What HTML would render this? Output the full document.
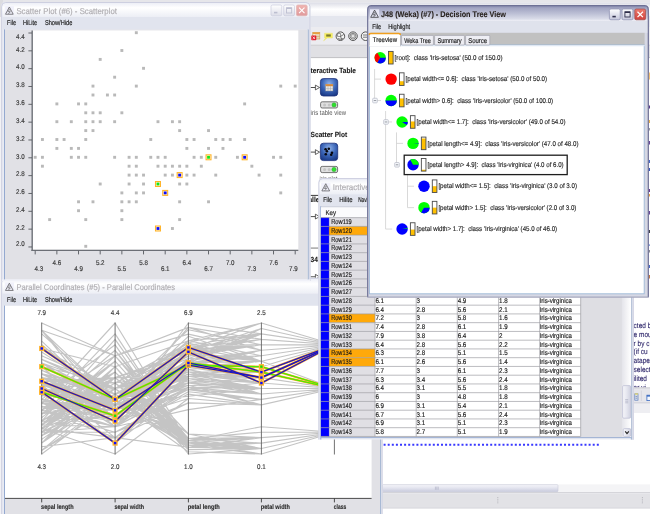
<!DOCTYPE html>
<html><head><meta charset="utf-8"><title>KNIME views</title>
<style>
html,body{margin:0;padding:0;background:#fff;overflow:hidden}
svg{display:block;will-change:transform;font-family:"Liberation Sans",sans-serif;white-space:pre;text-rendering:geometricPrecision}
</style></head><body>
<svg width="650" height="514" viewBox="0 0 650 514">
<rect width="650" height="514" fill="#ffffff"/>
<g>
<defs>
<linearGradient id="gInact" x1="0" y1="0" x2="0" y2="1">
 <stop offset="0" stop-color="#eceef6"/><stop offset="0.35" stop-color="#ffffff"/><stop offset="1" stop-color="#eceef5"/>
</linearGradient>
<linearGradient id="gAct" x1="0" y1="0" x2="0" y2="1">
 <stop offset="0" stop-color="#8b8eb1"/><stop offset="0.15" stop-color="#a3a6c3"/><stop offset="0.5" stop-color="#bcbfd5"/><stop offset="0.85" stop-color="#d9dbe8"/><stop offset="1" stop-color="#eeeff6"/>
</linearGradient>
<linearGradient id="gBtn" x1="0" y1="0" x2="0" y2="1">
 <stop offset="0" stop-color="#ffffff"/><stop offset="1" stop-color="#c4c6da"/>
</linearGradient>
<linearGradient id="gBtnI" x1="0" y1="0" x2="0" y2="1">
 <stop offset="0" stop-color="#ffffff"/><stop offset="1" stop-color="#dcdde8"/>
</linearGradient>
<linearGradient id="gClose" x1="0" y1="0" x2="0" y2="1">
 <stop offset="0" stop-color="#ee7c6e"/><stop offset="1" stop-color="#d0403c"/>
</linearGradient>
<linearGradient id="gCloseI" x1="0" y1="0" x2="0" y2="1">
 <stop offset="0" stop-color="#f0b4b0"/><stop offset="1" stop-color="#e09a9c"/>
</linearGradient>
<linearGradient id="gTop" x1="0" y1="0" x2="0" y2="1">
 <stop offset="0" stop-color="#dcdde6"/><stop offset="0.5" stop-color="#ffffff"/><stop offset="1" stop-color="#f2f2f6"/>
</linearGradient>
<radialGradient id="gNode" cx="0.5" cy="0.3" r="0.75">
 <stop offset="0" stop-color="#8fb2ea"/><stop offset="0.55" stop-color="#3a64b6"/><stop offset="1" stop-color="#1a3884"/>
</radialGradient>
<linearGradient id="gSbH" x1="0" y1="0" x2="0" y2="1">
 <stop offset="0" stop-color="#f6f6fa"/><stop offset="0.5" stop-color="#e2e3ee"/><stop offset="1" stop-color="#c8cadc"/>
</linearGradient>
<linearGradient id="gSbV" x1="0" y1="0" x2="1" y2="0">
 <stop offset="0" stop-color="#f6f6fa"/><stop offset="0.5" stop-color="#e6e7f0"/><stop offset="1" stop-color="#cfd1e0"/>
</linearGradient>
<linearGradient id="gTrackV" x1="0" y1="0" x2="1" y2="0">
 <stop offset="0" stop-color="#e4e4ea"/><stop offset="1" stop-color="#ffffff"/>
</linearGradient>
</defs>
<rect x="0.00" y="0.00" width="650.00" height="514.00" fill="#ffffff" />
<rect x="0.00" y="0.00" width="650.00" height="2.50" fill="#e6e6ea" />
<rect x="0.00" y="2.50" width="650.00" height="13.50" fill="url(#gTop)" />
<rect x="0.00" y="16.00" width="650.00" height="11.00" fill="#e4e6ee" />
<rect x="0.00" y="27.00" width="650.00" height="18.00" fill="#ececf0" />
<line x1="0.00" y1="45.30" x2="650.00" y2="45.30" stroke="#b4b4b8" stroke-width="0.8" />
<rect x="0.00" y="45.70" width="650.00" height="11.60" fill="#e0e0e4" />
<line x1="0.00" y1="57.60" x2="650.00" y2="57.60" stroke="#b0b0b4" stroke-width="0.8" />
<rect x="0.00" y="0.00" width="3.00" height="17.00" fill="#dcdce0" />
<rect x="0.00" y="17.00" width="3.00" height="497.00" fill="#f2f2f5" />
<rect x="312.80" y="32.30" width="7.00" height="6.70" fill="#f4e8d0" stroke="#c89040" stroke-width="0.6" />
<rect x="312.80" y="32.30" width="7.00" height="1.70" fill="#e8a040" />
<line x1="316.00" y1="34.00" x2="316.00" y2="39.00" stroke="#c8a060" stroke-width="0.5" />
<line x1="318.00" y1="34.00" x2="318.00" y2="39.00" stroke="#c8a060" stroke-width="0.5" />
<line x1="312.80" y1="36.50" x2="319.80" y2="36.50" stroke="#c8a060" stroke-width="0.5" />
<rect x="311.30" y="35.50" width="5.00" height="4.70" fill="#e02030" rx="0.6" />
<line x1="312.60" y1="36.70" x2="315.00" y2="39.00" stroke="#fff" stroke-width="0.7" />
<line x1="315.00" y1="36.70" x2="312.60" y2="39.00" stroke="#fff" stroke-width="0.7" />
<path d="M324.6 33.2 H332.4 V38 H327.2 L323.6 40.8 L325.6 38 H324.6 Z" fill="#f6ee60" stroke="#e8e070" stroke-width="0.5"/>
<rect x="326.20" y="34.40" width="4.60" height="2.20" fill="#7a7a30" />
<circle cx="340.4" cy="36.2" r="4.3" fill="#f4f4f4" stroke="#444" stroke-width="0.9"/>
<circle cx="353.0" cy="36.2" r="4.3" fill="#f4f4f4" stroke="#444" stroke-width="0.9"/>
<circle cx="365.6" cy="36.2" r="4.3" fill="#f4f4f4" stroke="#444" stroke-width="0.9"/>
<path d="M337.6 33.6 H340.6 V36.4 H337.6 Z" fill="#fff" stroke="#444" stroke-width="0.6"/>
<path d="M340.6 36.4 L343.8 34.4 M340.6 36.4 L341.6 39.6 M338 38.6 Q340.4 40 343 38.6" fill="none" stroke="#444" stroke-width="0.7"/>
<circle cx="353" cy="36.2" r="2.9" fill="none" stroke="#555" stroke-width="0.7"/>
<path d="M351.6 34.6 H354.4 V37.6 H351.6 Z" fill="#eee" stroke="#666" stroke-width="0.5"/>
<path d="M363 35 H367 M363 37.2 H367" stroke="#444" stroke-width="0.7"/>
<rect x="308.60" y="16.00" width="2.00" height="498.00" fill="#e4e6f0" />
<text x="310.60" y="72.60" font-size="7.39" fill="#1c1c1c" font-weight="bold" stroke="#1c1c1c" stroke-width="0.12" textLength="45.30" lengthAdjust="spacingAndGlyphs" >teractive Table</text>
<line x1="310.60" y1="87.50" x2="315.40" y2="87.50" stroke="#222" stroke-width="0.8" />
<path d="M315.4 85.10 L319.6 87.50 L315.4 89.90 Z" fill="#fff" stroke="#222" stroke-width="0.7"/>
<rect x="320.40" y="78.60" width="17.30" height="17.40" fill="url(#gNode)" stroke="#1a2f78" stroke-width="0.8" rx="3" />
<rect x="325.60" y="84.20" width="7.40" height="6.80" fill="#e8e8e8" stroke="#888" stroke-width="0.4" />
<rect x="325.60" y="84.20" width="7.40" height="2.00" fill="#d88a3a" />
<line x1="328.00" y1="86.20" x2="328.00" y2="91.00" stroke="#999" stroke-width="0.4" />
<line x1="330.50" y1="86.20" x2="330.50" y2="91.00" stroke="#999" stroke-width="0.4" />
<line x1="325.60" y1="88.60" x2="333.00" y2="88.60" stroke="#999" stroke-width="0.4" />
<rect x="320.60" y="101.80" width="17.00" height="6.20" fill="#e0e0e0" stroke="#555" stroke-width="0.8" rx="1.6" />
<circle cx="324.6" cy="104.9" r="1.5" fill="#c4c4c4"/>
<circle cx="329.2" cy="104.9" r="1.5" fill="#c4c4c4"/>
<circle cx="334" cy="104.9" r="2.2" fill="#2ee02e" stroke="#3a9a3a" stroke-width="0.4"/>
<text x="310.60" y="115.48" font-size="7.06" fill="#585858" textLength="35.50" lengthAdjust="spacingAndGlyphs" stroke="none">iris table view</text>
<text x="310.60" y="137.20" font-size="7.39" fill="#1c1c1c" font-weight="bold" stroke="#1c1c1c" stroke-width="0.12" textLength="36.50" lengthAdjust="spacingAndGlyphs" >Scatter Plot</text>
<line x1="310.60" y1="152.10" x2="315.40" y2="152.10" stroke="#222" stroke-width="0.8" />
<path d="M315.4 149.70 L319.6 152.10 L315.4 154.50 Z" fill="#fff" stroke="#222" stroke-width="0.7"/>
<rect x="320.40" y="143.20" width="17.30" height="17.40" fill="url(#gNode)" stroke="#1a2f78" stroke-width="0.8" rx="3" />
<circle cx="325.6" cy="149.2" r="1.3" fill="#06060e"/>
<circle cx="328.8" cy="148.8" r="1.3" fill="#06060e"/>
<circle cx="326.9" cy="151.3" r="1.3" fill="#06060e"/>
<circle cx="332.0" cy="152.8" r="1.3" fill="#06060e"/>
<circle cx="325.8" cy="154.2" r="1.3" fill="#06060e"/>
<circle cx="331.2" cy="154.8" r="1.3" fill="#06060e"/>
<rect x="320.60" y="166.40" width="17.00" height="6.20" fill="#e0e0e0" stroke="#555" stroke-width="0.8" rx="1.6" />
<circle cx="324.6" cy="169.5" r="1.5" fill="#c4c4c4"/>
<circle cx="329.2" cy="169.5" r="1.5" fill="#c4c4c4"/>
<circle cx="334" cy="169.5" r="2.2" fill="#2ee02e" stroke="#3a9a3a" stroke-width="0.4"/>
<text x="319.60" y="180.68" font-size="7.06" fill="#585858" textLength="17.80" lengthAdjust="spacingAndGlyphs" stroke="none">iris plot</text>
<clipPath id="cv"><rect x="310.6" y="58" width="60" height="456"/></clipPath>
<text x="308.40" y="201.60" font-size="7.39" fill="#1c1c1c" font-weight="bold" stroke="#1c1c1c" stroke-width="0.12" textLength="11.01" lengthAdjust="spacingAndGlyphs" clip-path="url(#cv)">alle</text>
<line x1="310.60" y1="216.60" x2="315.40" y2="216.60" stroke="#222" stroke-width="0.8" />
<path d="M315.4 214.2 L319.6 216.6 L315.4 219 Z" fill="#fff" stroke="#222" stroke-width="0.7"/>
<line x1="310.60" y1="248.10" x2="318.60" y2="248.10" stroke="#a6a6a6" stroke-width="1.5" />
<line x1="310.60" y1="195.40" x2="318.60" y2="195.40" stroke="#3a3a3a" stroke-width="1.0" />
<text x="310.60" y="261.60" font-size="7.39" fill="#1c1c1c" font-weight="bold" stroke="#1c1c1c" stroke-width="0.12" textLength="7.34" lengthAdjust="spacingAndGlyphs" >34</text>
<line x1="310.60" y1="276.80" x2="315.40" y2="276.80" stroke="#222" stroke-width="0.8" />
<path d="M315.4 274.4 L319.6 276.8 L315.4 279.2 Z" fill="#fff" stroke="#222" stroke-width="0.7"/>
<rect x="631.50" y="297.00" width="2.30" height="143.00" fill="#e8e8f0" />
<text x="633.60" y="327.90" font-size="7.67" fill="#221a62" textLength="17.71" lengthAdjust="spacingAndGlyphs" stroke="#221a62" stroke-width="0.1">cted b</text>
<text x="633.60" y="336.73" font-size="7.67" fill="#221a62" textLength="18.07" lengthAdjust="spacingAndGlyphs" stroke="#221a62" stroke-width="0.1">e mou</text>
<text x="633.60" y="345.56" font-size="7.67" fill="#221a62" textLength="15.89" lengthAdjust="spacingAndGlyphs" stroke="#221a62" stroke-width="0.1">r by c</text>
<text x="633.60" y="354.39" font-size="7.67" fill="#221a62" textLength="14.09" lengthAdjust="spacingAndGlyphs" stroke="#221a62" stroke-width="0.1">(if cu</text>
<text x="633.60" y="363.22" font-size="7.67" fill="#221a62" textLength="16.27" lengthAdjust="spacingAndGlyphs" stroke="#221a62" stroke-width="0.1">atape</text>
<text x="633.60" y="372.05" font-size="7.67" fill="#221a62" textLength="16.98" lengthAdjust="spacingAndGlyphs" stroke="#221a62" stroke-width="0.1">select</text>
<text x="633.60" y="380.88" font-size="7.67" fill="#221a62" textLength="13.37" lengthAdjust="spacingAndGlyphs" stroke="#221a62" stroke-width="0.1">ilited</text>
<text x="633.60" y="389.71" font-size="7.67" fill="#221a62" textLength="12.28" lengthAdjust="spacingAndGlyphs" stroke="#221a62" stroke-width="0.1">ar vi</text>
<rect x="633.80" y="387.30" width="16.20" height="15.90" fill="#e6e6eb" />
<rect x="633.80" y="403.20" width="16.20" height="9.80" fill="#eeeef2" />
<line x1="633.80" y1="387.90" x2="650.00" y2="387.90" stroke="#c4c4cc" stroke-width="0.8" />
<line x1="633.80" y1="402.90" x2="650.00" y2="402.90" stroke="#c8c8d0" stroke-width="0.8" />
<rect x="634.80" y="393.80" width="3.20" height="6.40" fill="#dbe6f6" stroke="#5a7ab8" stroke-width="0.7" />
<rect x="634.80" y="393.40" width="3.20" height="1.20" fill="#e8d860" />
<line x1="635.60" y1="396.40" x2="637.20" y2="396.40" stroke="#446" stroke-width="0.5" />
<line x1="635.60" y1="398.20" x2="637.20" y2="398.20" stroke="#446" stroke-width="0.5" />
<line x1="641.40" y1="390.50" x2="641.40" y2="401.00" stroke="#d0d0d8" stroke-width="0.7" />
<rect x="646.90" y="395.20" width="4.10" height="5.40" fill="#f4f8ff" stroke="#3a6ac0" stroke-width="0.8" />
<rect x="646.90" y="395.20" width="4.10" height="1.40" fill="#3a6ac0" />
<line x1="383.6" y1="444.8" x2="599" y2="444.8" stroke="#3838ff" stroke-width="1.9" stroke-dasharray="2.0 2.1"/>
<rect x="382.00" y="484.40" width="268.00" height="7.60" fill="#f4f4f6" />
<rect x="382.40" y="484.60" width="175.60" height="7.20" fill="url(#gSbH)" stroke="#c4c6d6" stroke-width="0.5" rx="1" />
<line x1="435.40" y1="486.60" x2="435.40" y2="489.80" stroke="#a8aac0" stroke-width="0.6" />
<line x1="436.80" y1="486.60" x2="436.80" y2="489.80" stroke="#a8aac0" stroke-width="0.6" />
<line x1="438.20" y1="486.60" x2="438.20" y2="489.80" stroke="#a8aac0" stroke-width="0.6" />
<line x1="382.00" y1="492.60" x2="650.00" y2="492.60" stroke="#c4c4cc" stroke-width="0.8" />
<rect x="382.00" y="493.20" width="268.00" height="14.40" fill="#e2e2e6" />
<line x1="382.00" y1="508.00" x2="650.00" y2="508.00" stroke="#c4c4cc" stroke-width="0.8" />
<line x1="497.8" y1="497" x2="497.8" y2="504" stroke="#a8a8b0" stroke-width="0.8" stroke-dasharray="0.9 0.9"/>
<line x1="642.4" y1="497" x2="642.4" y2="504" stroke="#a8a8b0" stroke-width="0.8" stroke-dasharray="0.9 0.9"/>
<path d="M1.20 520.00 V281.80 Q1.20 277.80 5.20 277.80 H378.60 Q382.60 277.80 382.60 281.80 V520.00 Z" fill="#e9ebf3"/>
<path d="M1.80 293.75 V282.10 Q1.80 278.60 5.20 278.60 H378.60 Q382.00 278.60 382.00 282.10 V293.75 Z" fill="url(#gInact)"/>
<path d="M1.70 520.00 V282.30 Q1.70 278.30 5.70 278.30 H378.10 Q382.10 278.30 382.10 282.30 V520.00" fill="none" stroke="#c9ccde" stroke-width="0.9"/>
<rect x="4.80" y="282.40" width="9.20" height="9.00" fill="#f1f1fb" />
<g transform="translate(5.40,282.80) scale(0.965)" fill="none" stroke="#626266" stroke-width="0.85" stroke-linejoin="round" stroke-linecap="round"><path d="M4.3 0.8 L8.1 7.9 L0.5 7.9 Z"/><path d="M2.6 5.3 L5.2 5.3 L3.3 7.3 M3.2 4.2 Q3 5 3.8 5.2" stroke-width="0.7"/><path d="M3.6 2.9 L5.0 3.7" stroke-width="0.7"/></g>
<text x="16.40" y="289.86" font-size="8.40" fill="#b0aeb2" textLength="158.60" lengthAdjust="spacingAndGlyphs" stroke="#b0aeb2" stroke-width="0.16" >Parallel Coordinates (#5) - Parallel Coordinates</text>
<rect x="2.70" y="293.75" width="378.40" height="11.85" fill="#e1e4ee" />
<text x="7.10" y="301.85" font-size="7.06" fill="#1a1a1a" textLength="8.90" lengthAdjust="spacingAndGlyphs" stroke="#1a1a1a" stroke-width="0.16" >File</text>
<text x="23.10" y="301.85" font-size="7.06" fill="#1a1a1a" textLength="14.10" lengthAdjust="spacingAndGlyphs" stroke="#1a1a1a" stroke-width="0.16" >HiLite</text>
<text x="44.90" y="301.85" font-size="7.06" fill="#1a1a1a" textLength="27.40" lengthAdjust="spacingAndGlyphs" stroke="#1a1a1a" stroke-width="0.16" >Show/Hide</text>
<line x1="4.50" y1="305.60" x2="4.50" y2="520.00" stroke="#8aa2cc" stroke-width="0.9" />
<line x1="380.40" y1="305.60" x2="380.40" y2="520.00" stroke="#a8b9d4" stroke-width="1.3" />
<rect x="5.00" y="305.80" width="375.00" height="214.20" fill="#e1e1e6" />
<rect x="5.00" y="305.80" width="366.60" height="192.40" fill="#ffffff" />
<path d="M41.7 424.9 L115.1 372.1 L188.4 445.1 L261.4 448.5 L334.4 432.2 M41.7 432.2 L115.1 399.4 L188.4 445.1 L261.4 448.5 L334.4 432.2 M41.7 439.4 L115.1 388.5 L188.4 447.3 L261.4 448.5 L334.4 432.2 M41.7 443.1 L115.1 394.0 L188.4 442.9 L261.4 448.5 L334.4 432.2 M41.7 428.5 L115.1 366.7 L188.4 445.1 L261.4 448.5 L334.4 432.2 M41.7 414.0 L115.1 350.3 L188.4 438.5 L261.4 437.6 L334.4 432.2 M41.7 443.1 L115.1 377.6 L188.4 445.1 L261.4 443.1 L334.4 432.2 M41.7 428.5 L115.1 377.6 L188.4 442.9 L261.4 448.5 L334.4 432.2 M41.7 450.4 L115.1 404.9 L188.4 445.1 L261.4 448.5 L334.4 432.2 M41.7 432.2 L115.1 394.0 L188.4 442.9 L261.4 454.0 L334.4 432.2 M41.7 414.0 L115.1 361.2 L188.4 442.9 L261.4 448.5 L334.4 432.2 M41.7 435.8 L115.1 377.6 L188.4 440.7 L261.4 448.5 L334.4 432.2 M41.7 435.8 L115.1 399.4 L188.4 445.1 L261.4 454.0 L334.4 432.2 M41.7 454.0 L115.1 399.4 L188.4 451.8 L261.4 454.0 L334.4 432.2 M41.7 399.4 L115.1 344.8 L188.4 449.6 L261.4 448.5 L334.4 432.2 M41.7 403.1 L115.1 323.0 L188.4 442.9 L261.4 437.6 L334.4 432.2 M41.7 414.0 L115.1 350.3 L188.4 447.3 L261.4 437.6 L334.4 432.2 M41.7 424.9 L115.1 372.1 L188.4 445.1 L261.4 443.1 L334.4 432.2 M41.7 403.1 L115.1 355.8 L188.4 438.5 L261.4 443.1 L334.4 432.2 M41.7 424.9 L115.1 355.8 L188.4 442.9 L261.4 443.1 L334.4 432.2 M41.7 414.0 L115.1 377.6 L188.4 438.5 L261.4 448.5 L334.4 432.2 M41.7 424.9 L115.1 361.2 L188.4 442.9 L261.4 437.6 L334.4 432.2 M41.7 443.1 L115.1 366.7 L188.4 454.0 L261.4 448.5 L334.4 432.2 M41.7 424.9 L115.1 383.0 L188.4 438.5 L261.4 432.2 L334.4 432.2 M41.7 435.8 L115.1 377.6 L188.4 434.0 L261.4 448.5 L334.4 432.2 M41.7 428.5 L115.1 399.4 L188.4 440.7 L261.4 448.5 L334.4 432.2 M41.7 428.5 L115.1 377.6 L188.4 440.7 L261.4 437.6 L334.4 432.2 M41.7 421.2 L115.1 372.1 L188.4 442.9 L261.4 448.5 L334.4 432.2 M41.7 421.2 L115.1 377.6 L188.4 445.1 L261.4 448.5 L334.4 432.2 M41.7 439.4 L115.1 388.5 L188.4 440.7 L261.4 448.5 L334.4 432.2 M41.7 435.8 L115.1 394.0 L188.4 440.7 L261.4 448.5 L334.4 432.2 M41.7 414.0 L115.1 377.6 L188.4 442.9 L261.4 437.6 L334.4 432.2 M41.7 421.2 L115.1 339.4 L188.4 442.9 L261.4 454.0 L334.4 432.2 M41.7 410.3 L115.1 333.9 L188.4 445.1 L261.4 448.5 L334.4 432.2 M41.7 432.2 L115.1 394.0 L188.4 442.9 L261.4 448.5 L334.4 432.2 M41.7 428.5 L115.1 388.5 L188.4 449.6 L261.4 448.5 L334.4 432.2 M41.7 410.3 L115.1 372.1 L188.4 447.3 L261.4 448.5 L334.4 432.2 M41.7 432.2 L115.1 366.7 L188.4 445.1 L261.4 454.0 L334.4 432.2 M41.7 450.4 L115.1 399.4 L188.4 447.3 L261.4 448.5 L334.4 432.2 M41.7 424.9 L115.1 377.6 L188.4 442.9 L261.4 448.5 L334.4 432.2 M41.7 428.5 L115.1 372.1 L188.4 447.3 L261.4 443.1 L334.4 432.2 M41.7 446.7 L115.1 437.6 L188.4 447.3 L261.4 443.1 L334.4 432.2 M41.7 450.4 L115.1 388.5 L188.4 447.3 L261.4 448.5 L334.4 432.2 M41.7 428.5 L115.1 372.1 L188.4 440.7 L261.4 426.7 L334.4 432.2 M41.7 424.9 L115.1 355.8 L188.4 434.0 L261.4 437.6 L334.4 432.2 M41.7 435.8 L115.1 399.4 L188.4 445.1 L261.4 443.1 L334.4 432.2 M41.7 424.9 L115.1 355.8 L188.4 440.7 L261.4 448.5 L334.4 432.2 M41.7 443.1 L115.1 388.5 L188.4 445.1 L261.4 448.5 L334.4 432.2 M41.7 417.6 L115.1 361.2 L188.4 442.9 L261.4 448.5 L334.4 432.2 M41.7 428.5 L115.1 383.0 L188.4 445.1 L261.4 448.5 L334.4 432.2 M41.7 355.8 L115.1 388.5 L188.4 371.8 L261.4 383.0 L334.4 388.5 M41.7 377.6 L115.1 388.5 L188.4 376.3 L261.4 377.6 L334.4 388.5 M41.7 359.4 L115.1 394.0 L188.4 367.4 L261.4 377.6 L334.4 388.5 M41.7 410.3 L115.1 437.6 L188.4 387.4 L261.4 388.5 L334.4 388.5 M41.7 373.9 L115.1 410.3 L188.4 374.1 L261.4 377.6 L334.4 388.5 M41.7 403.1 L115.1 410.3 L188.4 376.3 L261.4 388.5 L334.4 388.5 M41.7 381.2 L115.1 383.0 L188.4 371.8 L261.4 372.1 L334.4 388.5 M41.7 432.2 L115.1 432.2 L188.4 402.9 L261.4 404.9 L334.4 388.5 M41.7 370.3 L115.1 404.9 L188.4 374.1 L261.4 388.5 L334.4 388.5 M41.7 421.2 L115.1 415.8 L188.4 389.6 L261.4 383.0 L334.4 388.5 M41.7 428.5 L115.1 454.0 L188.4 398.5 L261.4 404.9 L334.4 388.5 M41.7 395.8 L115.1 399.4 L188.4 382.9 L261.4 377.6 L334.4 388.5 M41.7 392.1 L115.1 443.1 L188.4 387.4 L261.4 404.9 L334.4 388.5 M41.7 388.5 L115.1 404.9 L188.4 371.8 L261.4 383.0 L334.4 388.5 M41.7 406.7 L115.1 404.9 L188.4 396.3 L261.4 388.5 L334.4 388.5 M41.7 366.7 L115.1 394.0 L188.4 378.5 L261.4 383.0 L334.4 388.5 M41.7 406.7 L115.1 399.4 L188.4 376.3 L261.4 377.6 L334.4 388.5 M41.7 399.4 L115.1 415.8 L188.4 385.2 L261.4 404.9 L334.4 388.5 M41.7 384.9 L115.1 443.1 L188.4 376.3 L261.4 377.6 L334.4 388.5 M41.7 406.7 L115.1 426.7 L188.4 389.6 L261.4 399.4 L334.4 388.5 M41.7 395.8 L115.1 388.5 L188.4 369.6 L261.4 361.2 L334.4 388.5 M41.7 388.5 L115.1 410.3 L188.4 387.4 L261.4 388.5 L334.4 388.5 M41.7 381.2 L115.1 426.7 L188.4 367.4 L261.4 377.6 L334.4 388.5 M41.7 388.5 L115.1 410.3 L188.4 371.8 L261.4 394.0 L334.4 388.5 M41.7 377.6 L115.1 404.9 L188.4 380.7 L261.4 388.5 L334.4 388.5 M41.7 370.3 L115.1 399.4 L188.4 378.5 L261.4 383.0 L334.4 388.5 M41.7 363.0 L115.1 410.3 L188.4 369.6 L261.4 383.0 L334.4 388.5 M41.7 366.7 L115.1 399.4 L188.4 365.2 L261.4 366.7 L334.4 388.5 M41.7 392.1 L115.1 404.9 L188.4 376.3 L261.4 377.6 L334.4 388.5 M41.7 403.1 L115.1 421.2 L188.4 398.5 L261.4 404.9 L334.4 388.5 M41.7 410.3 L115.1 432.2 L188.4 391.8 L261.4 399.4 L334.4 388.5 M41.7 410.3 L115.1 432.2 L188.4 394.1 L261.4 404.9 L334.4 388.5 M41.7 399.4 L115.1 415.8 L188.4 389.6 L261.4 394.0 L334.4 388.5 M41.7 392.1 L115.1 415.8 L188.4 363.0 L261.4 372.1 L334.4 388.5 M41.7 414.0 L115.1 399.4 L188.4 376.3 L261.4 377.6 L334.4 388.5 M41.7 392.1 L115.1 377.6 L188.4 376.3 L261.4 372.1 L334.4 388.5 M41.7 366.7 L115.1 394.0 L188.4 371.8 L261.4 377.6 L334.4 388.5 M41.7 381.2 L115.1 437.6 L188.4 378.5 L261.4 388.5 L334.4 388.5 M41.7 406.7 L115.1 399.4 L188.4 385.2 L261.4 388.5 L334.4 388.5 M41.7 410.3 L115.1 426.7 L188.4 387.4 L261.4 388.5 L334.4 388.5 M41.7 410.3 L115.1 421.2 L188.4 378.5 L261.4 394.0 L334.4 388.5 M41.7 388.5 L115.1 399.4 L188.4 374.1 L261.4 383.0 L334.4 388.5 M41.7 399.4 L115.1 421.2 L188.4 387.4 L261.4 394.0 L334.4 388.5 M41.7 428.5 L115.1 437.6 L188.4 402.9 L261.4 404.9 L334.4 388.5 M41.7 406.7 L115.1 415.8 L188.4 382.9 L261.4 388.5 L334.4 388.5 M41.7 403.1 L115.1 399.4 L188.4 382.9 L261.4 394.0 L334.4 388.5 M41.7 403.1 L115.1 404.9 L188.4 382.9 L261.4 388.5 L334.4 388.5 M41.7 384.9 L115.1 404.9 L188.4 380.7 L261.4 388.5 L334.4 388.5 M41.7 424.9 L115.1 426.7 L188.4 409.6 L261.4 399.4 L334.4 388.5 M41.7 403.1 L115.1 410.3 L188.4 385.2 L261.4 388.5 L334.4 388.5 M41.7 381.2 L115.1 383.0 L188.4 343.0 L261.4 323.0 L334.4 344.8 M41.7 399.4 L115.1 415.8 L188.4 363.0 L261.4 355.8 L334.4 344.8 M41.7 352.1 L115.1 399.4 L188.4 345.2 L261.4 344.8 L334.4 344.8 M41.7 381.2 L115.1 404.9 L188.4 351.9 L261.4 361.2 L334.4 344.8 M41.7 373.9 L115.1 399.4 L188.4 347.4 L261.4 339.4 L334.4 344.8 M41.7 333.9 L115.1 399.4 L188.4 329.7 L261.4 344.8 L334.4 344.8 M41.7 432.2 L115.1 426.7 L188.4 376.3 L261.4 366.7 L334.4 344.8 M41.7 344.8 L115.1 404.9 L188.4 336.3 L261.4 361.2 L334.4 344.8 M41.7 366.7 L115.1 426.7 L188.4 347.4 L261.4 361.2 L334.4 344.8 M41.7 348.5 L115.1 366.7 L188.4 340.8 L261.4 323.0 L334.4 344.8 M41.7 373.9 L115.1 388.5 L188.4 363.0 L261.4 350.3 L334.4 344.8 M41.7 377.6 L115.1 415.8 L188.4 358.5 L261.4 355.8 L334.4 344.8 M41.7 363.0 L115.1 399.4 L188.4 354.1 L261.4 344.8 L334.4 344.8 M41.7 403.1 L115.1 426.7 L188.4 365.2 L261.4 350.3 L334.4 344.8 M41.7 399.4 L115.1 410.3 L188.4 363.0 L261.4 328.5 L334.4 344.8 M41.7 377.6 L115.1 388.5 L188.4 358.5 L261.4 333.9 L334.4 344.8 M41.7 373.9 L115.1 399.4 L188.4 354.1 L261.4 361.2 L334.4 344.8 M41.7 330.3 L115.1 355.8 L188.4 327.4 L261.4 339.4 L334.4 344.8 M41.7 330.3 L115.1 421.2 L188.4 323.0 L261.4 333.9 L334.4 344.8 M41.7 392.1 L115.1 443.1 L188.4 365.2 L261.4 377.6 L334.4 344.8 M41.7 359.4 L115.1 388.5 L188.4 349.6 L261.4 333.9 L334.4 344.8 M41.7 406.7 L115.1 410.3 L188.4 367.4 L261.4 350.3 L334.4 344.8 M41.7 330.3 L115.1 410.3 L188.4 327.4 L261.4 350.3 L334.4 344.8 M41.7 381.2 L115.1 415.8 L188.4 367.4 L261.4 361.2 L334.4 344.8 M41.7 366.7 L115.1 383.0 L188.4 349.6 L261.4 344.8 L334.4 344.8 M41.7 348.5 L115.1 388.5 L188.4 343.0 L261.4 361.2 L334.4 344.8 M41.7 384.9 L115.1 410.3 L188.4 369.6 L261.4 361.2 L334.4 344.8 M41.7 388.5 L115.1 399.4 L188.4 367.4 L261.4 361.2 L334.4 344.8 M41.7 377.6 L115.1 410.3 L188.4 351.9 L261.4 344.8 L334.4 344.8 M41.7 348.5 L115.1 399.4 L188.4 347.4 L261.4 372.1 L334.4 344.8 M41.7 341.2 L115.1 410.3 L188.4 340.8 L261.4 355.8 L334.4 344.8 M41.7 323.0 L115.1 355.8 L188.4 334.1 L261.4 350.3 L334.4 344.8 M41.7 377.6 L115.1 410.3 L188.4 351.9 L261.4 339.4 L334.4 344.8 M41.7 381.2 L115.1 410.3 L188.4 363.0 L261.4 377.6 L334.4 344.8 M41.7 388.5 L115.1 421.2 L188.4 351.9 L261.4 383.0 L334.4 344.8 M41.7 330.3 L115.1 399.4 L188.4 340.8 L261.4 333.9 L334.4 344.8 M41.7 381.2 L115.1 377.6 L188.4 351.9 L261.4 328.5 L334.4 344.8 M41.7 377.6 L115.1 394.0 L188.4 354.1 L261.4 361.2 L334.4 344.8 M41.7 392.1 L115.1 399.4 L188.4 369.6 L261.4 361.2 L334.4 344.8 M41.7 359.4 L115.1 394.0 L188.4 356.3 L261.4 344.8 L334.4 344.8 M41.7 366.7 L115.1 394.0 L188.4 351.9 L261.4 328.5 L334.4 344.8 M41.7 359.4 L115.1 394.0 L188.4 363.0 L261.4 333.9 L334.4 344.8 M41.7 363.0 L115.1 388.5 L188.4 345.2 L261.4 333.9 L334.4 344.8 M41.7 366.7 L115.1 383.0 L188.4 349.6 L261.4 323.0 L334.4 344.8 M41.7 366.7 L115.1 399.4 L188.4 360.7 L261.4 333.9 L334.4 344.8 M41.7 381.2 L115.1 426.7 L188.4 365.2 L261.4 355.8 L334.4 344.8 M41.7 373.9 L115.1 399.4 L188.4 360.7 L261.4 350.3 L334.4 344.8 M41.7 384.9 L115.1 377.6 L188.4 356.3 L261.4 333.9 L334.4 344.8 M41.7 395.8 L115.1 399.4 L188.4 363.0 L261.4 361.2 L334.4 344.8" fill="none" stroke="#c4c4c4" stroke-width="1.15" stroke-linejoin="round"/>
<line x1="41.70" y1="322.50" x2="41.70" y2="454.50" stroke="#626262" stroke-width="0.9" />
<line x1="115.10" y1="322.50" x2="115.10" y2="454.50" stroke="#626262" stroke-width="0.9" />
<line x1="188.40" y1="322.50" x2="188.40" y2="454.50" stroke="#626262" stroke-width="0.9" />
<line x1="261.40" y1="322.50" x2="261.40" y2="454.50" stroke="#626262" stroke-width="0.9" />
<line x1="334.40" y1="322.50" x2="334.40" y2="454.50" stroke="#626262" stroke-width="0.9" />
<path d="M41.7 366.7 L115.1 399.4 L188.4 365.2 L261.4 366.7 L334.4 388.5" fill="none" stroke="#ffac20" stroke-width="2.15"/>
<path d="M41.7 392.1 L115.1 415.8 L188.4 363.0 L261.4 372.1 L334.4 388.5" fill="none" stroke="#ffac20" stroke-width="2.15"/>
<path d="M41.7 392.1 L115.1 443.1 L188.4 365.2 L261.4 377.6 L334.4 344.8" fill="none" stroke="#ffac20" stroke-width="2.15"/>
<path d="M41.7 348.5 L115.1 399.4 L188.4 347.4 L261.4 372.1 L334.4 344.8" fill="none" stroke="#ffac20" stroke-width="2.15"/>
<path d="M41.7 381.2 L115.1 410.3 L188.4 363.0 L261.4 377.6 L334.4 344.8" fill="none" stroke="#ffac20" stroke-width="2.15"/>
<path d="M41.7 388.5 L115.1 421.2 L188.4 351.9 L261.4 383.0 L334.4 344.8" fill="none" stroke="#ffac20" stroke-width="2.15"/>
<path d="M41.7 366.7 L115.1 399.4 L188.4 365.2 L261.4 366.7 L334.4 388.5" fill="none" stroke="#46ee00" stroke-width="1.25"/>
<path d="M41.7 392.1 L115.1 415.8 L188.4 363.0 L261.4 372.1 L334.4 388.5" fill="none" stroke="#46ee00" stroke-width="1.25"/>
<path d="M41.7 392.1 L115.1 443.1 L188.4 365.2 L261.4 377.6 L334.4 344.8" fill="none" stroke="#1c14c4" stroke-width="1.25"/>
<path d="M41.7 348.5 L115.1 399.4 L188.4 347.4 L261.4 372.1 L334.4 344.8" fill="none" stroke="#1c14c4" stroke-width="1.25"/>
<path d="M41.7 381.2 L115.1 410.3 L188.4 363.0 L261.4 377.6 L334.4 344.8" fill="none" stroke="#1c14c4" stroke-width="1.25"/>
<path d="M41.7 388.5 L115.1 421.2 L188.4 351.9 L261.4 383.0 L334.4 344.8" fill="none" stroke="#1c14c4" stroke-width="1.25"/>
<rect x="39.10" y="364.07" width="5.20" height="5.20" fill="#ffb52e" />
<rect x="40.50" y="365.47" width="2.40" height="2.40" fill="#10e010" />
<rect x="112.50" y="396.82" width="5.20" height="5.20" fill="#ffb52e" />
<rect x="113.90" y="398.22" width="2.40" height="2.40" fill="#10e010" />
<rect x="185.80" y="362.59" width="5.20" height="5.20" fill="#ffb52e" />
<rect x="187.20" y="363.99" width="2.40" height="2.40" fill="#10e010" />
<rect x="258.80" y="364.07" width="5.20" height="5.20" fill="#ffb52e" />
<rect x="260.20" y="365.47" width="2.40" height="2.40" fill="#10e010" />
<rect x="331.80" y="385.90" width="5.20" height="5.20" fill="#ffb52e" />
<rect x="333.20" y="387.30" width="2.40" height="2.40" fill="#10e010" />
<rect x="39.10" y="389.54" width="5.20" height="5.20" fill="#ffb52e" />
<rect x="40.50" y="390.94" width="2.40" height="2.40" fill="#10e010" />
<rect x="112.50" y="413.19" width="5.20" height="5.20" fill="#ffb52e" />
<rect x="113.90" y="414.59" width="2.40" height="2.40" fill="#10e010" />
<rect x="185.80" y="360.37" width="5.20" height="5.20" fill="#ffb52e" />
<rect x="187.20" y="361.77" width="2.40" height="2.40" fill="#10e010" />
<rect x="258.80" y="369.52" width="5.20" height="5.20" fill="#ffb52e" />
<rect x="260.20" y="370.93" width="2.40" height="2.40" fill="#10e010" />
<rect x="331.80" y="385.90" width="5.20" height="5.20" fill="#ffb52e" />
<rect x="333.20" y="387.30" width="2.40" height="2.40" fill="#10e010" />
<rect x="39.10" y="389.54" width="5.20" height="5.20" fill="#ffb52e" />
<rect x="40.50" y="390.94" width="2.40" height="2.40" fill="#0a0aff" />
<rect x="112.50" y="440.48" width="5.20" height="5.20" fill="#ffb52e" />
<rect x="113.90" y="441.88" width="2.40" height="2.40" fill="#0a0aff" />
<rect x="185.80" y="362.59" width="5.20" height="5.20" fill="#ffb52e" />
<rect x="187.20" y="363.99" width="2.40" height="2.40" fill="#0a0aff" />
<rect x="258.80" y="374.98" width="5.20" height="5.20" fill="#ffb52e" />
<rect x="260.20" y="376.38" width="2.40" height="2.40" fill="#0a0aff" />
<rect x="331.80" y="342.23" width="5.20" height="5.20" fill="#ffb52e" />
<rect x="333.20" y="343.63" width="2.40" height="2.40" fill="#0a0aff" />
<rect x="39.10" y="345.87" width="5.20" height="5.20" fill="#ffb52e" />
<rect x="40.50" y="347.27" width="2.40" height="2.40" fill="#0a0aff" />
<rect x="112.50" y="396.82" width="5.20" height="5.20" fill="#ffb52e" />
<rect x="113.90" y="398.22" width="2.40" height="2.40" fill="#0a0aff" />
<rect x="185.80" y="344.82" width="5.20" height="5.20" fill="#ffb52e" />
<rect x="187.20" y="346.22" width="2.40" height="2.40" fill="#0a0aff" />
<rect x="258.80" y="369.52" width="5.20" height="5.20" fill="#ffb52e" />
<rect x="260.20" y="370.93" width="2.40" height="2.40" fill="#0a0aff" />
<rect x="331.80" y="342.23" width="5.20" height="5.20" fill="#ffb52e" />
<rect x="333.20" y="343.63" width="2.40" height="2.40" fill="#0a0aff" />
<rect x="39.10" y="378.62" width="5.20" height="5.20" fill="#ffb52e" />
<rect x="40.50" y="380.02" width="2.40" height="2.40" fill="#0a0aff" />
<rect x="112.50" y="407.73" width="5.20" height="5.20" fill="#ffb52e" />
<rect x="113.90" y="409.13" width="2.40" height="2.40" fill="#0a0aff" />
<rect x="185.80" y="360.37" width="5.20" height="5.20" fill="#ffb52e" />
<rect x="187.20" y="361.77" width="2.40" height="2.40" fill="#0a0aff" />
<rect x="258.80" y="374.98" width="5.20" height="5.20" fill="#ffb52e" />
<rect x="260.20" y="376.38" width="2.40" height="2.40" fill="#0a0aff" />
<rect x="331.80" y="342.23" width="5.20" height="5.20" fill="#ffb52e" />
<rect x="333.20" y="343.63" width="2.40" height="2.40" fill="#0a0aff" />
<rect x="39.10" y="385.90" width="5.20" height="5.20" fill="#ffb52e" />
<rect x="40.50" y="387.30" width="2.40" height="2.40" fill="#0a0aff" />
<rect x="112.50" y="418.65" width="5.20" height="5.20" fill="#ffb52e" />
<rect x="113.90" y="420.05" width="2.40" height="2.40" fill="#0a0aff" />
<rect x="185.80" y="349.26" width="5.20" height="5.20" fill="#ffb52e" />
<rect x="187.20" y="350.66" width="2.40" height="2.40" fill="#0a0aff" />
<rect x="258.80" y="380.44" width="5.20" height="5.20" fill="#ffb52e" />
<rect x="260.20" y="381.84" width="2.40" height="2.40" fill="#0a0aff" />
<rect x="331.80" y="342.23" width="5.20" height="5.20" fill="#ffb52e" />
<rect x="333.20" y="343.63" width="2.40" height="2.40" fill="#0a0aff" />
<text x="37.39" y="315.24" font-size="6.94" fill="#3a3a3a" textLength="8.62" lengthAdjust="spacingAndGlyphs" stroke="#3a3a3a" stroke-width="0.16" >7.9</text>
<text x="37.39" y="468.84" font-size="6.94" fill="#3a3a3a" textLength="8.62" lengthAdjust="spacingAndGlyphs" stroke="#3a3a3a" stroke-width="0.16" >4.3</text>
<text x="110.79" y="315.24" font-size="6.94" fill="#3a3a3a" textLength="8.62" lengthAdjust="spacingAndGlyphs" stroke="#3a3a3a" stroke-width="0.16" >4.4</text>
<text x="110.79" y="468.84" font-size="6.94" fill="#3a3a3a" textLength="8.62" lengthAdjust="spacingAndGlyphs" stroke="#3a3a3a" stroke-width="0.16" >2.0</text>
<text x="184.09" y="315.24" font-size="6.94" fill="#3a3a3a" textLength="8.62" lengthAdjust="spacingAndGlyphs" stroke="#3a3a3a" stroke-width="0.16" >6.9</text>
<text x="184.09" y="468.84" font-size="6.94" fill="#3a3a3a" textLength="8.62" lengthAdjust="spacingAndGlyphs" stroke="#3a3a3a" stroke-width="0.16" >1.0</text>
<text x="257.09" y="315.24" font-size="6.94" fill="#3a3a3a" textLength="8.62" lengthAdjust="spacingAndGlyphs" stroke="#3a3a3a" stroke-width="0.16" >2.5</text>
<text x="257.09" y="468.84" font-size="6.94" fill="#3a3a3a" textLength="8.62" lengthAdjust="spacingAndGlyphs" stroke="#3a3a3a" stroke-width="0.16" >0.1</text>
<line x1="5.00" y1="498.40" x2="371.60" y2="498.40" stroke="#3a3a3a" stroke-width="0.9" />
<line x1="41.70" y1="498.40" x2="41.70" y2="502.40" stroke="#3a3a3a" stroke-width="0.9" />
<text x="41.10" y="509.16" font-size="6.72" fill="#2a2a2a" font-weight="bold" stroke="#2a2a2a" stroke-width="0.12" textLength="32.50" lengthAdjust="spacingAndGlyphs" >sepal length</text>
<line x1="115.10" y1="498.40" x2="115.10" y2="502.40" stroke="#3a3a3a" stroke-width="0.9" />
<text x="114.50" y="509.16" font-size="6.72" fill="#2a2a2a" font-weight="bold" stroke="#2a2a2a" stroke-width="0.12" textLength="29.50" lengthAdjust="spacingAndGlyphs" >sepal width</text>
<line x1="188.40" y1="498.40" x2="188.40" y2="502.40" stroke="#3a3a3a" stroke-width="0.9" />
<text x="187.80" y="509.16" font-size="6.72" fill="#2a2a2a" font-weight="bold" stroke="#2a2a2a" stroke-width="0.12" textLength="32.00" lengthAdjust="spacingAndGlyphs" >petal length</text>
<line x1="261.40" y1="498.40" x2="261.40" y2="502.40" stroke="#3a3a3a" stroke-width="0.9" />
<text x="260.80" y="509.16" font-size="6.72" fill="#2a2a2a" font-weight="bold" stroke="#2a2a2a" stroke-width="0.12" textLength="29.00" lengthAdjust="spacingAndGlyphs" >petal width</text>
<line x1="334.40" y1="498.40" x2="334.40" y2="502.40" stroke="#3a3a3a" stroke-width="0.9" />
<text x="333.80" y="509.16" font-size="6.72" fill="#2a2a2a" font-weight="bold" stroke="#2a2a2a" stroke-width="0.12" textLength="12.40" lengthAdjust="spacingAndGlyphs" >class</text>
<path d="M1.20 281.00 V6.00 Q1.20 2.00 5.20 2.00 H306.40 Q310.40 2.00 310.40 6.00 V281.00 Z" fill="#e9ebf3"/>
<path d="M1.80 17.00 V6.30 Q1.80 2.80 5.20 2.80 H306.40 Q309.80 2.80 309.80 6.30 V17.00 Z" fill="url(#gInact)"/>
<path d="M1.70 281.00 V6.50 Q1.70 2.50 5.70 2.50 H305.90 Q309.90 2.50 309.90 6.50 V281.00" fill="none" stroke="#c9ccde" stroke-width="0.9"/>
<rect x="4.80" y="6.20" width="9.20" height="9.00" fill="#f1f1fb" />
<g transform="translate(5.40,6.60) scale(0.965)" fill="none" stroke="#626266" stroke-width="0.85" stroke-linejoin="round" stroke-linecap="round"><path d="M4.3 0.8 L8.1 7.9 L0.5 7.9 Z"/><path d="M2.6 5.3 L5.2 5.3 L3.3 7.3 M3.2 4.2 Q3 5 3.8 5.2" stroke-width="0.7"/><path d="M3.6 2.9 L5.0 3.7" stroke-width="0.7"/></g>
<text x="16.40" y="13.66" font-size="8.40" fill="#b0aeb2" textLength="100.50" lengthAdjust="spacingAndGlyphs" stroke="#b0aeb2" stroke-width="0.16" >Scatter Plot (#6) - Scatterplot</text>
<rect x="296.40" y="5.00" width="10.80" height="10.80" fill="url(#gCloseI)" stroke="#e0b4b4" stroke-width="0.7" rx="1.5" />
<line x1="299.10" y1="7.70" x2="304.50" y2="13.10" stroke="#ffffff" stroke-width="1.1" />
<line x1="304.50" y1="7.70" x2="299.10" y2="13.10" stroke="#ffffff" stroke-width="1.1" />
<rect x="283.70" y="5.00" width="10.80" height="10.80" fill="url(#gBtnI)" stroke="#c8cadc" stroke-width="0.7" rx="1.5" />
<rect x="286.50" y="7.80" width="5.20" height="5.20" fill="none" stroke="#bcbed0" stroke-width="0.9" />
<line x1="286.50" y1="8.30" x2="291.70" y2="8.30" stroke="#bcbed0" stroke-width="1.4" />
<rect x="271.00" y="5.00" width="10.80" height="10.80" fill="url(#gBtnI)" stroke="#c8cadc" stroke-width="0.7" rx="1.5" />
<line x1="274.00" y1="12.60" x2="277.40" y2="12.60" stroke="#bcbed0" stroke-width="1.6" />
<rect x="2.70" y="17.00" width="306.20" height="12.40" fill="#e1e4ee" />
<text x="7.10" y="25.38" font-size="7.06" fill="#1a1a1a" textLength="8.90" lengthAdjust="spacingAndGlyphs" stroke="#1a1a1a" stroke-width="0.16" >File</text>
<text x="23.10" y="25.38" font-size="7.06" fill="#1a1a1a" textLength="14.10" lengthAdjust="spacingAndGlyphs" stroke="#1a1a1a" stroke-width="0.16" >HiLite</text>
<text x="44.90" y="25.38" font-size="7.06" fill="#1a1a1a" textLength="27.40" lengthAdjust="spacingAndGlyphs" stroke="#1a1a1a" stroke-width="0.16" >Show/Hide</text>
<line x1="4.50" y1="29.40" x2="4.50" y2="281.00" stroke="#8aa2cc" stroke-width="0.9" />
<line x1="308.20" y1="29.40" x2="308.20" y2="281.00" stroke="#a8b9d4" stroke-width="1.3" />
<rect x="5.00" y="29.60" width="302.60" height="249.80" fill="#e1e1e6" />
<rect x="1.80" y="279.40" width="308.20" height="1.60" fill="#f0f1f8" />
<rect x="32.80" y="30.40" width="265.50" height="219.40" fill="#ffffff" />
<line x1="32.20" y1="30.40" x2="32.20" y2="250.90" stroke="#777a80" stroke-width="1.5" />
<line x1="31.40" y1="250.30" x2="298.30" y2="250.30" stroke="#6c6f76" stroke-width="1.3" />
<line x1="28.40" y1="33.00" x2="32.00" y2="33.00" stroke="#55585e" stroke-width="0.9" />
<text x="15.98" y="39.14" font-size="6.94" fill="#3a3a3a" textLength="8.62" lengthAdjust="spacingAndGlyphs" stroke="#3a3a3a" stroke-width="0.16" >4.4</text>
<line x1="28.40" y1="50.83" x2="32.00" y2="50.83" stroke="#55585e" stroke-width="0.9" />
<text x="15.98" y="51.57" font-size="6.94" fill="#3a3a3a" textLength="8.62" lengthAdjust="spacingAndGlyphs" stroke="#3a3a3a" stroke-width="0.16" >4.2</text>
<line x1="28.40" y1="68.66" x2="32.00" y2="68.66" stroke="#55585e" stroke-width="0.9" />
<text x="15.98" y="69.40" font-size="6.94" fill="#3a3a3a" textLength="8.62" lengthAdjust="spacingAndGlyphs" stroke="#3a3a3a" stroke-width="0.16" >4.0</text>
<line x1="28.40" y1="86.49" x2="32.00" y2="86.49" stroke="#55585e" stroke-width="0.9" />
<text x="15.98" y="87.23" font-size="6.94" fill="#3a3a3a" textLength="8.62" lengthAdjust="spacingAndGlyphs" stroke="#3a3a3a" stroke-width="0.16" >3.8</text>
<line x1="28.40" y1="104.32" x2="32.00" y2="104.32" stroke="#55585e" stroke-width="0.9" />
<text x="15.98" y="105.06" font-size="6.94" fill="#3a3a3a" textLength="8.62" lengthAdjust="spacingAndGlyphs" stroke="#3a3a3a" stroke-width="0.16" >3.6</text>
<line x1="28.40" y1="122.15" x2="32.00" y2="122.15" stroke="#55585e" stroke-width="0.9" />
<text x="15.98" y="122.89" font-size="6.94" fill="#3a3a3a" textLength="8.62" lengthAdjust="spacingAndGlyphs" stroke="#3a3a3a" stroke-width="0.16" >3.4</text>
<line x1="28.40" y1="139.98" x2="32.00" y2="139.98" stroke="#55585e" stroke-width="0.9" />
<text x="15.98" y="140.72" font-size="6.94" fill="#3a3a3a" textLength="8.62" lengthAdjust="spacingAndGlyphs" stroke="#3a3a3a" stroke-width="0.16" >3.2</text>
<line x1="28.40" y1="157.81" x2="32.00" y2="157.81" stroke="#55585e" stroke-width="0.9" />
<text x="15.98" y="158.55" font-size="6.94" fill="#3a3a3a" textLength="8.62" lengthAdjust="spacingAndGlyphs" stroke="#3a3a3a" stroke-width="0.16" >3.0</text>
<line x1="28.40" y1="175.64" x2="32.00" y2="175.64" stroke="#55585e" stroke-width="0.9" />
<text x="15.98" y="176.38" font-size="6.94" fill="#3a3a3a" textLength="8.62" lengthAdjust="spacingAndGlyphs" stroke="#3a3a3a" stroke-width="0.16" >2.8</text>
<line x1="28.40" y1="193.47" x2="32.00" y2="193.47" stroke="#55585e" stroke-width="0.9" />
<text x="15.98" y="194.21" font-size="6.94" fill="#3a3a3a" textLength="8.62" lengthAdjust="spacingAndGlyphs" stroke="#3a3a3a" stroke-width="0.16" >2.6</text>
<line x1="28.40" y1="211.30" x2="32.00" y2="211.30" stroke="#55585e" stroke-width="0.9" />
<text x="15.98" y="212.04" font-size="6.94" fill="#3a3a3a" textLength="8.62" lengthAdjust="spacingAndGlyphs" stroke="#3a3a3a" stroke-width="0.16" >2.4</text>
<line x1="28.40" y1="229.13" x2="32.00" y2="229.13" stroke="#55585e" stroke-width="0.9" />
<text x="15.98" y="229.87" font-size="6.94" fill="#3a3a3a" textLength="8.62" lengthAdjust="spacingAndGlyphs" stroke="#3a3a3a" stroke-width="0.16" >2.2</text>
<line x1="28.40" y1="246.96" x2="32.00" y2="246.96" stroke="#55585e" stroke-width="0.9" />
<text x="15.98" y="246.24" font-size="6.94" fill="#3a3a3a" textLength="8.62" lengthAdjust="spacingAndGlyphs" stroke="#3a3a3a" stroke-width="0.16" >2.0</text>
<line x1="35.20" y1="250.80" x2="35.20" y2="254.40" stroke="#55585e" stroke-width="0.9" />
<text x="34.59" y="270.94" font-size="6.94" fill="#3a3a3a" textLength="8.62" lengthAdjust="spacingAndGlyphs" stroke="#3a3a3a" stroke-width="0.16" >4.3</text>
<line x1="56.87" y1="250.80" x2="56.87" y2="254.40" stroke="#55585e" stroke-width="0.9" />
<text x="52.56" y="265.34" font-size="6.94" fill="#3a3a3a" textLength="8.62" lengthAdjust="spacingAndGlyphs" stroke="#3a3a3a" stroke-width="0.16" >4.6</text>
<line x1="78.53" y1="250.80" x2="78.53" y2="254.40" stroke="#55585e" stroke-width="0.9" />
<text x="74.22" y="270.94" font-size="6.94" fill="#3a3a3a" textLength="8.62" lengthAdjust="spacingAndGlyphs" stroke="#3a3a3a" stroke-width="0.16" >4.9</text>
<line x1="100.20" y1="250.80" x2="100.20" y2="254.40" stroke="#55585e" stroke-width="0.9" />
<text x="95.89" y="265.34" font-size="6.94" fill="#3a3a3a" textLength="8.62" lengthAdjust="spacingAndGlyphs" stroke="#3a3a3a" stroke-width="0.16" >5.2</text>
<line x1="121.86" y1="250.80" x2="121.86" y2="254.40" stroke="#55585e" stroke-width="0.9" />
<text x="117.55" y="270.94" font-size="6.94" fill="#3a3a3a" textLength="8.62" lengthAdjust="spacingAndGlyphs" stroke="#3a3a3a" stroke-width="0.16" >5.5</text>
<line x1="143.53" y1="250.80" x2="143.53" y2="254.40" stroke="#55585e" stroke-width="0.9" />
<text x="139.22" y="265.34" font-size="6.94" fill="#3a3a3a" textLength="8.62" lengthAdjust="spacingAndGlyphs" stroke="#3a3a3a" stroke-width="0.16" >5.8</text>
<line x1="165.20" y1="250.80" x2="165.20" y2="254.40" stroke="#55585e" stroke-width="0.9" />
<text x="160.89" y="270.94" font-size="6.94" fill="#3a3a3a" textLength="8.62" lengthAdjust="spacingAndGlyphs" stroke="#3a3a3a" stroke-width="0.16" >6.1</text>
<line x1="186.86" y1="250.80" x2="186.86" y2="254.40" stroke="#55585e" stroke-width="0.9" />
<text x="182.55" y="265.34" font-size="6.94" fill="#3a3a3a" textLength="8.62" lengthAdjust="spacingAndGlyphs" stroke="#3a3a3a" stroke-width="0.16" >6.4</text>
<line x1="208.53" y1="250.80" x2="208.53" y2="254.40" stroke="#55585e" stroke-width="0.9" />
<text x="204.22" y="270.94" font-size="6.94" fill="#3a3a3a" textLength="8.62" lengthAdjust="spacingAndGlyphs" stroke="#3a3a3a" stroke-width="0.16" >6.7</text>
<line x1="230.19" y1="250.80" x2="230.19" y2="254.40" stroke="#55585e" stroke-width="0.9" />
<text x="225.88" y="265.34" font-size="6.94" fill="#3a3a3a" textLength="8.62" lengthAdjust="spacingAndGlyphs" stroke="#3a3a3a" stroke-width="0.16" >7.0</text>
<line x1="251.86" y1="250.80" x2="251.86" y2="254.40" stroke="#55585e" stroke-width="0.9" />
<text x="247.55" y="270.94" font-size="6.94" fill="#3a3a3a" textLength="8.62" lengthAdjust="spacingAndGlyphs" stroke="#3a3a3a" stroke-width="0.16" >7.3</text>
<line x1="273.53" y1="250.80" x2="273.53" y2="254.40" stroke="#55585e" stroke-width="0.9" />
<text x="269.22" y="265.34" font-size="6.94" fill="#3a3a3a" textLength="8.62" lengthAdjust="spacingAndGlyphs" stroke="#3a3a3a" stroke-width="0.16" >7.6</text>
<line x1="295.19" y1="250.80" x2="295.19" y2="254.40" stroke="#55585e" stroke-width="0.9" />
<text x="288.99" y="270.94" font-size="6.94" fill="#3a3a3a" textLength="8.62" lengthAdjust="spacingAndGlyphs" stroke="#3a3a3a" stroke-width="0.16" >7.9</text>
<rect x="91.53" y="111.35" width="2.90" height="2.90" fill="#b9b9b9" />
<rect x="77.08" y="155.85" width="2.90" height="2.90" fill="#b9b9b9" />
<rect x="62.64" y="138.05" width="2.90" height="2.90" fill="#b9b9b9" />
<rect x="55.42" y="146.95" width="2.90" height="2.90" fill="#b9b9b9" />
<rect x="84.30" y="102.45" width="2.90" height="2.90" fill="#b9b9b9" />
<rect x="113.19" y="75.75" width="2.90" height="2.90" fill="#b9b9b9" />
<rect x="55.42" y="120.25" width="2.90" height="2.90" fill="#b9b9b9" />
<rect x="84.30" y="120.25" width="2.90" height="2.90" fill="#b9b9b9" />
<rect x="40.97" y="164.75" width="2.90" height="2.90" fill="#b9b9b9" />
<rect x="77.08" y="146.95" width="2.90" height="2.90" fill="#b9b9b9" />
<rect x="113.19" y="93.55" width="2.90" height="2.90" fill="#b9b9b9" />
<rect x="69.86" y="120.25" width="2.90" height="2.90" fill="#b9b9b9" />
<rect x="69.86" y="155.85" width="2.90" height="2.90" fill="#b9b9b9" />
<rect x="33.75" y="155.85" width="2.90" height="2.90" fill="#b9b9b9" />
<rect x="142.08" y="66.85" width="2.90" height="2.90" fill="#b9b9b9" />
<rect x="134.86" y="31.25" width="2.90" height="2.90" fill="#b9b9b9" />
<rect x="134.86" y="84.65" width="2.90" height="2.90" fill="#b9b9b9" />
<rect x="91.53" y="84.65" width="2.90" height="2.90" fill="#b9b9b9" />
<rect x="113.19" y="120.25" width="2.90" height="2.90" fill="#b9b9b9" />
<rect x="91.53" y="93.55" width="2.90" height="2.90" fill="#b9b9b9" />
<rect x="55.42" y="102.45" width="2.90" height="2.90" fill="#b9b9b9" />
<rect x="91.53" y="129.15" width="2.90" height="2.90" fill="#b9b9b9" />
<rect x="84.30" y="155.85" width="2.90" height="2.90" fill="#b9b9b9" />
<rect x="98.75" y="111.35" width="2.90" height="2.90" fill="#b9b9b9" />
<rect x="98.75" y="120.25" width="2.90" height="2.90" fill="#b9b9b9" />
<rect x="69.86" y="146.95" width="2.90" height="2.90" fill="#b9b9b9" />
<rect x="98.75" y="57.95" width="2.90" height="2.90" fill="#b9b9b9" />
<rect x="120.41" y="49.05" width="2.90" height="2.90" fill="#b9b9b9" />
<rect x="84.30" y="138.05" width="2.90" height="2.90" fill="#b9b9b9" />
<rect x="120.41" y="111.35" width="2.90" height="2.90" fill="#b9b9b9" />
<rect x="77.08" y="102.45" width="2.90" height="2.90" fill="#b9b9b9" />
<rect x="40.97" y="155.85" width="2.90" height="2.90" fill="#b9b9b9" />
<rect x="91.53" y="120.25" width="2.90" height="2.90" fill="#b9b9b9" />
<rect x="84.30" y="111.35" width="2.90" height="2.90" fill="#b9b9b9" />
<rect x="48.19" y="218.15" width="2.90" height="2.90" fill="#b9b9b9" />
<rect x="40.97" y="138.05" width="2.90" height="2.90" fill="#b9b9b9" />
<rect x="55.42" y="138.05" width="2.90" height="2.90" fill="#b9b9b9" />
<rect x="105.97" y="93.55" width="2.90" height="2.90" fill="#b9b9b9" />
<rect x="84.30" y="129.15" width="2.90" height="2.90" fill="#b9b9b9" />
<rect x="228.74" y="138.05" width="2.90" height="2.90" fill="#b9b9b9" />
<rect x="185.41" y="138.05" width="2.90" height="2.90" fill="#b9b9b9" />
<rect x="221.52" y="146.95" width="2.90" height="2.90" fill="#b9b9b9" />
<rect x="120.41" y="218.15" width="2.90" height="2.90" fill="#b9b9b9" />
<rect x="192.63" y="173.65" width="2.90" height="2.90" fill="#b9b9b9" />
<rect x="134.86" y="173.65" width="2.90" height="2.90" fill="#b9b9b9" />
<rect x="178.19" y="129.15" width="2.90" height="2.90" fill="#b9b9b9" />
<rect x="77.08" y="209.25" width="2.90" height="2.90" fill="#b9b9b9" />
<rect x="199.86" y="164.75" width="2.90" height="2.90" fill="#b9b9b9" />
<rect x="98.75" y="182.55" width="2.90" height="2.90" fill="#b9b9b9" />
<rect x="84.30" y="244.85" width="2.90" height="2.90" fill="#b9b9b9" />
<rect x="149.30" y="155.85" width="2.90" height="2.90" fill="#b9b9b9" />
<rect x="156.52" y="227.05" width="2.90" height="2.90" fill="#b9b9b9" />
<rect x="163.75" y="164.75" width="2.90" height="2.90" fill="#b9b9b9" />
<rect x="127.64" y="164.75" width="2.90" height="2.90" fill="#b9b9b9" />
<rect x="207.08" y="146.95" width="2.90" height="2.90" fill="#b9b9b9" />
<rect x="127.64" y="155.85" width="2.90" height="2.90" fill="#b9b9b9" />
<rect x="142.08" y="182.55" width="2.90" height="2.90" fill="#b9b9b9" />
<rect x="170.97" y="227.05" width="2.90" height="2.90" fill="#b9b9b9" />
<rect x="127.64" y="200.35" width="2.90" height="2.90" fill="#b9b9b9" />
<rect x="149.30" y="138.05" width="2.90" height="2.90" fill="#b9b9b9" />
<rect x="163.75" y="173.65" width="2.90" height="2.90" fill="#b9b9b9" />
<rect x="178.19" y="200.35" width="2.90" height="2.90" fill="#b9b9b9" />
<rect x="185.41" y="164.75" width="2.90" height="2.90" fill="#b9b9b9" />
<rect x="199.86" y="155.85" width="2.90" height="2.90" fill="#b9b9b9" />
<rect x="214.30" y="173.65" width="2.90" height="2.90" fill="#b9b9b9" />
<rect x="207.08" y="155.85" width="2.90" height="2.90" fill="#b9b9b9" />
<rect x="156.52" y="164.75" width="2.90" height="2.90" fill="#b9b9b9" />
<rect x="134.86" y="191.45" width="2.90" height="2.90" fill="#b9b9b9" />
<rect x="120.41" y="209.25" width="2.90" height="2.90" fill="#b9b9b9" />
<rect x="156.52" y="182.55" width="2.90" height="2.90" fill="#b9b9b9" />
<rect x="113.19" y="155.85" width="2.90" height="2.90" fill="#b9b9b9" />
<rect x="156.52" y="120.25" width="2.90" height="2.90" fill="#b9b9b9" />
<rect x="178.19" y="218.15" width="2.90" height="2.90" fill="#b9b9b9" />
<rect x="120.41" y="200.35" width="2.90" height="2.90" fill="#b9b9b9" />
<rect x="120.41" y="191.45" width="2.90" height="2.90" fill="#b9b9b9" />
<rect x="163.75" y="155.85" width="2.90" height="2.90" fill="#b9b9b9" />
<rect x="142.08" y="191.45" width="2.90" height="2.90" fill="#b9b9b9" />
<rect x="84.30" y="218.15" width="2.90" height="2.90" fill="#b9b9b9" />
<rect x="127.64" y="182.55" width="2.90" height="2.90" fill="#b9b9b9" />
<rect x="134.86" y="155.85" width="2.90" height="2.90" fill="#b9b9b9" />
<rect x="134.86" y="164.75" width="2.90" height="2.90" fill="#b9b9b9" />
<rect x="170.97" y="164.75" width="2.90" height="2.90" fill="#b9b9b9" />
<rect x="91.53" y="200.35" width="2.90" height="2.90" fill="#b9b9b9" />
<rect x="235.97" y="155.85" width="2.90" height="2.90" fill="#b9b9b9" />
<rect x="178.19" y="164.75" width="2.90" height="2.90" fill="#b9b9b9" />
<rect x="192.63" y="155.85" width="2.90" height="2.90" fill="#b9b9b9" />
<rect x="272.08" y="155.85" width="2.90" height="2.90" fill="#b9b9b9" />
<rect x="77.08" y="200.35" width="2.90" height="2.90" fill="#b9b9b9" />
<rect x="250.41" y="164.75" width="2.90" height="2.90" fill="#b9b9b9" />
<rect x="207.08" y="200.35" width="2.90" height="2.90" fill="#b9b9b9" />
<rect x="243.19" y="102.45" width="2.90" height="2.90" fill="#b9b9b9" />
<rect x="192.63" y="138.05" width="2.90" height="2.90" fill="#b9b9b9" />
<rect x="185.41" y="182.55" width="2.90" height="2.90" fill="#b9b9b9" />
<rect x="214.30" y="155.85" width="2.90" height="2.90" fill="#b9b9b9" />
<rect x="134.86" y="200.35" width="2.90" height="2.90" fill="#b9b9b9" />
<rect x="142.08" y="173.65" width="2.90" height="2.90" fill="#b9b9b9" />
<rect x="279.30" y="84.65" width="2.90" height="2.90" fill="#b9b9b9" />
<rect x="279.30" y="191.45" width="2.90" height="2.90" fill="#b9b9b9" />
<rect x="221.52" y="138.05" width="2.90" height="2.90" fill="#b9b9b9" />
<rect x="127.64" y="173.65" width="2.90" height="2.90" fill="#b9b9b9" />
<rect x="279.30" y="173.65" width="2.90" height="2.90" fill="#b9b9b9" />
<rect x="178.19" y="182.55" width="2.90" height="2.90" fill="#b9b9b9" />
<rect x="207.08" y="129.15" width="2.90" height="2.90" fill="#b9b9b9" />
<rect x="243.19" y="138.05" width="2.90" height="2.90" fill="#b9b9b9" />
<rect x="170.97" y="173.65" width="2.90" height="2.90" fill="#b9b9b9" />
<rect x="185.41" y="173.65" width="2.90" height="2.90" fill="#b9b9b9" />
<rect x="243.19" y="155.85" width="2.90" height="2.90" fill="#b9b9b9" />
<rect x="257.63" y="173.65" width="2.90" height="2.90" fill="#b9b9b9" />
<rect x="293.74" y="84.65" width="2.90" height="2.90" fill="#b9b9b9" />
<rect x="178.19" y="173.65" width="2.90" height="2.90" fill="#b9b9b9" />
<rect x="163.75" y="191.45" width="2.90" height="2.90" fill="#b9b9b9" />
<rect x="279.30" y="155.85" width="2.90" height="2.90" fill="#b9b9b9" />
<rect x="178.19" y="120.25" width="2.90" height="2.90" fill="#b9b9b9" />
<rect x="185.41" y="146.95" width="2.90" height="2.90" fill="#b9b9b9" />
<rect x="156.52" y="155.85" width="2.90" height="2.90" fill="#b9b9b9" />
<rect x="214.30" y="138.05" width="2.90" height="2.90" fill="#b9b9b9" />
<rect x="170.97" y="120.25" width="2.90" height="2.90" fill="#b9b9b9" />
<rect x="205.53" y="154.30" width="6.00" height="6.00" fill="#ffb224" />
<rect x="206.53" y="155.30" width="4.00" height="4.00" fill="#fff0c8" />
<rect x="207.13" y="155.90" width="2.80" height="2.80" fill="#10e818" />
<rect x="154.97" y="181.00" width="6.00" height="6.00" fill="#ffb224" />
<rect x="155.97" y="182.00" width="4.00" height="4.00" fill="#fff0c8" />
<rect x="156.57" y="182.60" width="2.80" height="2.80" fill="#10e818" />
<rect x="154.97" y="225.50" width="6.00" height="6.00" fill="#ffb224" />
<rect x="155.97" y="226.50" width="4.00" height="4.00" fill="#fff0c8" />
<rect x="156.57" y="227.10" width="2.80" height="2.80" fill="#0a0aff" />
<rect x="241.64" y="154.30" width="6.00" height="6.00" fill="#ffb224" />
<rect x="242.64" y="155.30" width="4.00" height="4.00" fill="#fff0c8" />
<rect x="243.24" y="155.90" width="2.80" height="2.80" fill="#0a0aff" />
<rect x="176.64" y="172.10" width="6.00" height="6.00" fill="#ffb224" />
<rect x="177.64" y="173.10" width="4.00" height="4.00" fill="#fff0c8" />
<rect x="178.24" y="173.70" width="2.80" height="2.80" fill="#0a0aff" />
<rect x="162.20" y="189.90" width="6.00" height="6.00" fill="#ffb224" />
<rect x="163.20" y="190.90" width="4.00" height="4.00" fill="#fff0c8" />
<rect x="163.80" y="191.50" width="2.80" height="2.80" fill="#0a0aff" />
<path d="M318.40 439.60 V182.10 Q318.40 178.10 322.40 178.10 H629.70 Q633.70 178.10 633.70 182.10 V439.60 Z" fill="#e9ebf3"/>
<path d="M319.00 194.40 V182.40 Q319.00 178.90 322.40 178.90 H629.70 Q633.10 178.90 633.10 182.40 V194.40 Z" fill="url(#gInact)"/>
<path d="M318.90 439.60 V182.60 Q318.90 178.60 322.90 178.60 H629.20 Q633.20 178.60 633.20 182.60 V439.60" fill="none" stroke="#c9ccde" stroke-width="0.9"/>
<rect x="321.20" y="182.90" width="9.20" height="9.00" fill="#f1f1fb" />
<g transform="translate(321.80,183.30) scale(0.965)" fill="none" stroke="#626266" stroke-width="0.85" stroke-linejoin="round" stroke-linecap="round"><path d="M4.3 0.8 L8.1 7.9 L0.5 7.9 Z"/><path d="M2.6 5.3 L5.2 5.3 L3.3 7.3 M3.2 4.2 Q3 5 3.8 5.2" stroke-width="0.7"/><path d="M3.6 2.9 L5.0 3.7" stroke-width="0.7"/></g>
<text x="332.80" y="190.36" font-size="8.40" fill="#b0aeb2" textLength="140.00" lengthAdjust="spacingAndGlyphs" stroke="#b0aeb2" stroke-width="0.16" >Interactive Table (#4) - Interactive Table</text>
<rect x="319.90" y="194.40" width="312.30" height="11.80" fill="#e1e4ee" />
<text x="323.20" y="202.48" font-size="7.06" fill="#1a1a1a" textLength="8.90" lengthAdjust="spacingAndGlyphs" stroke="#1a1a1a" stroke-width="0.16" >File</text>
<text x="339.20" y="202.48" font-size="7.06" fill="#1a1a1a" textLength="13.40" lengthAdjust="spacingAndGlyphs" stroke="#1a1a1a" stroke-width="0.16" >Hilite</text>
<text x="358.20" y="202.48" font-size="7.06" fill="#1a1a1a" textLength="22.00" lengthAdjust="spacingAndGlyphs" stroke="#1a1a1a" stroke-width="0.16" >Navigation</text>
<line x1="320.80" y1="206.20" x2="320.80" y2="439.60" stroke="#8aa2cc" stroke-width="0.9" />
<line x1="631.50" y1="206.20" x2="631.50" y2="439.60" stroke="#a8b9d4" stroke-width="1.3" />
<rect x="321.00" y="206.60" width="310.30" height="230.80" fill="#dedee3" />
<rect x="321.00" y="207.00" width="259.60" height="10.60" fill="#fbfbfd" />
<line x1="321.00" y1="206.80" x2="580.60" y2="206.80" stroke="#c0c4d4" stroke-width="0.7" />
<text x="325.40" y="214.64" font-size="6.94" fill="#222" textLength="10.68" lengthAdjust="spacingAndGlyphs" stroke="#222" stroke-width="0.16" >Key</text>
<rect x="329.00" y="217.65" width="251.60" height="218.80" fill="#ffffff" />
<rect x="329.00" y="217.65" width="46.00" height="8.75" fill="#e0dfe4" />
<rect x="321.00" y="217.65" width="8.00" height="8.75" fill="#0000ff" />
<text x="331.20" y="224.16" font-size="6.94" fill="#1a1a1a" textLength="20.60" lengthAdjust="spacingAndGlyphs" stroke="#1a1a1a" stroke-width="0.16" >Row119</text>
<text x="375.40" y="224.16" font-size="6.94" fill="#1a1a1a" textLength="8.62" lengthAdjust="spacingAndGlyphs" stroke="#1a1a1a" stroke-width="0.16" >7.7</text>
<text x="416.60" y="224.16" font-size="6.94" fill="#1a1a1a" textLength="8.62" lengthAdjust="spacingAndGlyphs" stroke="#1a1a1a" stroke-width="0.16" >2.6</text>
<text x="457.70" y="224.16" font-size="6.94" fill="#1a1a1a" textLength="8.62" lengthAdjust="spacingAndGlyphs" stroke="#1a1a1a" stroke-width="0.16" >6.9</text>
<text x="499.00" y="224.16" font-size="6.94" fill="#1a1a1a" textLength="8.62" lengthAdjust="spacingAndGlyphs" stroke="#1a1a1a" stroke-width="0.16" >2.3</text>
<text x="539.60" y="224.16" font-size="6.94" fill="#1a1a1a" textLength="32.40" lengthAdjust="spacingAndGlyphs" stroke="#1a1a1a" stroke-width="0.16" >Iris-virginica</text>
<rect x="329.00" y="226.40" width="46.00" height="8.75" fill="#ffa90a" />
<rect x="321.00" y="226.40" width="8.00" height="8.75" fill="#0000ff" />
<text x="331.20" y="232.91" font-size="6.94" fill="#1a1a1a" textLength="20.60" lengthAdjust="spacingAndGlyphs" stroke="#1a1a1a" stroke-width="0.16" >Row120</text>
<text x="375.40" y="232.91" font-size="6.94" fill="#1a1a1a" textLength="3.45" lengthAdjust="spacingAndGlyphs" stroke="#1a1a1a" stroke-width="0.16" >6</text>
<text x="416.60" y="232.91" font-size="6.94" fill="#1a1a1a" textLength="8.62" lengthAdjust="spacingAndGlyphs" stroke="#1a1a1a" stroke-width="0.16" >2.2</text>
<text x="457.70" y="232.91" font-size="6.94" fill="#1a1a1a" textLength="3.45" lengthAdjust="spacingAndGlyphs" stroke="#1a1a1a" stroke-width="0.16" >5</text>
<text x="499.00" y="232.91" font-size="6.94" fill="#1a1a1a" textLength="8.62" lengthAdjust="spacingAndGlyphs" stroke="#1a1a1a" stroke-width="0.16" >1.5</text>
<text x="539.60" y="232.91" font-size="6.94" fill="#1a1a1a" textLength="32.40" lengthAdjust="spacingAndGlyphs" stroke="#1a1a1a" stroke-width="0.16" >Iris-virginica</text>
<rect x="329.00" y="235.15" width="46.00" height="8.75" fill="#e0dfe4" />
<rect x="321.00" y="235.15" width="8.00" height="8.75" fill="#0000ff" />
<text x="331.20" y="241.67" font-size="6.94" fill="#1a1a1a" textLength="20.60" lengthAdjust="spacingAndGlyphs" stroke="#1a1a1a" stroke-width="0.16" >Row121</text>
<text x="375.40" y="241.67" font-size="6.94" fill="#1a1a1a" textLength="8.62" lengthAdjust="spacingAndGlyphs" stroke="#1a1a1a" stroke-width="0.16" >6.9</text>
<text x="416.60" y="241.67" font-size="6.94" fill="#1a1a1a" textLength="8.62" lengthAdjust="spacingAndGlyphs" stroke="#1a1a1a" stroke-width="0.16" >3.2</text>
<text x="457.70" y="241.67" font-size="6.94" fill="#1a1a1a" textLength="8.62" lengthAdjust="spacingAndGlyphs" stroke="#1a1a1a" stroke-width="0.16" >5.7</text>
<text x="499.00" y="241.67" font-size="6.94" fill="#1a1a1a" textLength="8.62" lengthAdjust="spacingAndGlyphs" stroke="#1a1a1a" stroke-width="0.16" >2.3</text>
<text x="539.60" y="241.67" font-size="6.94" fill="#1a1a1a" textLength="32.40" lengthAdjust="spacingAndGlyphs" stroke="#1a1a1a" stroke-width="0.16" >Iris-virginica</text>
<rect x="329.00" y="243.91" width="46.00" height="8.75" fill="#e0dfe4" />
<rect x="321.00" y="243.91" width="8.00" height="8.75" fill="#0000ff" />
<text x="331.20" y="250.42" font-size="6.94" fill="#1a1a1a" textLength="20.60" lengthAdjust="spacingAndGlyphs" stroke="#1a1a1a" stroke-width="0.16" >Row122</text>
<text x="375.40" y="250.42" font-size="6.94" fill="#1a1a1a" textLength="8.62" lengthAdjust="spacingAndGlyphs" stroke="#1a1a1a" stroke-width="0.16" >5.6</text>
<text x="416.60" y="250.42" font-size="6.94" fill="#1a1a1a" textLength="8.62" lengthAdjust="spacingAndGlyphs" stroke="#1a1a1a" stroke-width="0.16" >2.8</text>
<text x="457.70" y="250.42" font-size="6.94" fill="#1a1a1a" textLength="8.62" lengthAdjust="spacingAndGlyphs" stroke="#1a1a1a" stroke-width="0.16" >4.9</text>
<text x="499.00" y="250.42" font-size="6.94" fill="#1a1a1a" textLength="3.45" lengthAdjust="spacingAndGlyphs" stroke="#1a1a1a" stroke-width="0.16" >2</text>
<text x="539.60" y="250.42" font-size="6.94" fill="#1a1a1a" textLength="32.40" lengthAdjust="spacingAndGlyphs" stroke="#1a1a1a" stroke-width="0.16" >Iris-virginica</text>
<rect x="329.00" y="252.66" width="46.00" height="8.75" fill="#e0dfe4" />
<rect x="321.00" y="252.66" width="8.00" height="8.75" fill="#0000ff" />
<text x="331.20" y="259.17" font-size="6.94" fill="#1a1a1a" textLength="20.60" lengthAdjust="spacingAndGlyphs" stroke="#1a1a1a" stroke-width="0.16" >Row123</text>
<text x="375.40" y="259.17" font-size="6.94" fill="#1a1a1a" textLength="8.62" lengthAdjust="spacingAndGlyphs" stroke="#1a1a1a" stroke-width="0.16" >7.7</text>
<text x="416.60" y="259.17" font-size="6.94" fill="#1a1a1a" textLength="8.62" lengthAdjust="spacingAndGlyphs" stroke="#1a1a1a" stroke-width="0.16" >2.8</text>
<text x="457.70" y="259.17" font-size="6.94" fill="#1a1a1a" textLength="8.62" lengthAdjust="spacingAndGlyphs" stroke="#1a1a1a" stroke-width="0.16" >6.7</text>
<text x="499.00" y="259.17" font-size="6.94" fill="#1a1a1a" textLength="3.45" lengthAdjust="spacingAndGlyphs" stroke="#1a1a1a" stroke-width="0.16" >2</text>
<text x="539.60" y="259.17" font-size="6.94" fill="#1a1a1a" textLength="32.40" lengthAdjust="spacingAndGlyphs" stroke="#1a1a1a" stroke-width="0.16" >Iris-virginica</text>
<rect x="329.00" y="261.41" width="46.00" height="8.75" fill="#e0dfe4" />
<rect x="321.00" y="261.41" width="8.00" height="8.75" fill="#0000ff" />
<text x="331.20" y="267.92" font-size="6.94" fill="#1a1a1a" textLength="20.60" lengthAdjust="spacingAndGlyphs" stroke="#1a1a1a" stroke-width="0.16" >Row124</text>
<text x="375.40" y="267.92" font-size="6.94" fill="#1a1a1a" textLength="8.62" lengthAdjust="spacingAndGlyphs" stroke="#1a1a1a" stroke-width="0.16" >6.3</text>
<text x="416.60" y="267.92" font-size="6.94" fill="#1a1a1a" textLength="8.62" lengthAdjust="spacingAndGlyphs" stroke="#1a1a1a" stroke-width="0.16" >2.7</text>
<text x="457.70" y="267.92" font-size="6.94" fill="#1a1a1a" textLength="8.62" lengthAdjust="spacingAndGlyphs" stroke="#1a1a1a" stroke-width="0.16" >4.9</text>
<text x="499.00" y="267.92" font-size="6.94" fill="#1a1a1a" textLength="8.62" lengthAdjust="spacingAndGlyphs" stroke="#1a1a1a" stroke-width="0.16" >1.8</text>
<text x="539.60" y="267.92" font-size="6.94" fill="#1a1a1a" textLength="32.40" lengthAdjust="spacingAndGlyphs" stroke="#1a1a1a" stroke-width="0.16" >Iris-virginica</text>
<rect x="329.00" y="270.16" width="46.00" height="8.75" fill="#e0dfe4" />
<rect x="321.00" y="270.16" width="8.00" height="8.75" fill="#0000ff" />
<text x="331.20" y="276.67" font-size="6.94" fill="#1a1a1a" textLength="20.60" lengthAdjust="spacingAndGlyphs" stroke="#1a1a1a" stroke-width="0.16" >Row125</text>
<text x="375.40" y="276.67" font-size="6.94" fill="#1a1a1a" textLength="8.62" lengthAdjust="spacingAndGlyphs" stroke="#1a1a1a" stroke-width="0.16" >6.7</text>
<text x="416.60" y="276.67" font-size="6.94" fill="#1a1a1a" textLength="8.62" lengthAdjust="spacingAndGlyphs" stroke="#1a1a1a" stroke-width="0.16" >3.3</text>
<text x="457.70" y="276.67" font-size="6.94" fill="#1a1a1a" textLength="8.62" lengthAdjust="spacingAndGlyphs" stroke="#1a1a1a" stroke-width="0.16" >5.7</text>
<text x="499.00" y="276.67" font-size="6.94" fill="#1a1a1a" textLength="8.62" lengthAdjust="spacingAndGlyphs" stroke="#1a1a1a" stroke-width="0.16" >2.1</text>
<text x="539.60" y="276.67" font-size="6.94" fill="#1a1a1a" textLength="32.40" lengthAdjust="spacingAndGlyphs" stroke="#1a1a1a" stroke-width="0.16" >Iris-virginica</text>
<rect x="329.00" y="278.91" width="46.00" height="8.75" fill="#e0dfe4" />
<rect x="321.00" y="278.91" width="8.00" height="8.75" fill="#0000ff" />
<text x="331.20" y="285.43" font-size="6.94" fill="#1a1a1a" textLength="20.60" lengthAdjust="spacingAndGlyphs" stroke="#1a1a1a" stroke-width="0.16" >Row126</text>
<text x="375.40" y="285.43" font-size="6.94" fill="#1a1a1a" textLength="8.62" lengthAdjust="spacingAndGlyphs" stroke="#1a1a1a" stroke-width="0.16" >7.2</text>
<text x="416.60" y="285.43" font-size="6.94" fill="#1a1a1a" textLength="8.62" lengthAdjust="spacingAndGlyphs" stroke="#1a1a1a" stroke-width="0.16" >3.2</text>
<text x="457.70" y="285.43" font-size="6.94" fill="#1a1a1a" textLength="3.45" lengthAdjust="spacingAndGlyphs" stroke="#1a1a1a" stroke-width="0.16" >6</text>
<text x="499.00" y="285.43" font-size="6.94" fill="#1a1a1a" textLength="8.62" lengthAdjust="spacingAndGlyphs" stroke="#1a1a1a" stroke-width="0.16" >1.8</text>
<text x="539.60" y="285.43" font-size="6.94" fill="#1a1a1a" textLength="32.40" lengthAdjust="spacingAndGlyphs" stroke="#1a1a1a" stroke-width="0.16" >Iris-virginica</text>
<rect x="329.00" y="287.67" width="46.00" height="8.75" fill="#e0dfe4" />
<rect x="321.00" y="287.67" width="8.00" height="8.75" fill="#0000ff" />
<text x="331.20" y="294.18" font-size="6.94" fill="#1a1a1a" textLength="20.60" lengthAdjust="spacingAndGlyphs" stroke="#1a1a1a" stroke-width="0.16" >Row127</text>
<text x="375.40" y="294.18" font-size="6.94" fill="#1a1a1a" textLength="8.62" lengthAdjust="spacingAndGlyphs" stroke="#1a1a1a" stroke-width="0.16" >6.2</text>
<text x="416.60" y="294.18" font-size="6.94" fill="#1a1a1a" textLength="8.62" lengthAdjust="spacingAndGlyphs" stroke="#1a1a1a" stroke-width="0.16" >2.8</text>
<text x="457.70" y="294.18" font-size="6.94" fill="#1a1a1a" textLength="8.62" lengthAdjust="spacingAndGlyphs" stroke="#1a1a1a" stroke-width="0.16" >4.8</text>
<text x="499.00" y="294.18" font-size="6.94" fill="#1a1a1a" textLength="8.62" lengthAdjust="spacingAndGlyphs" stroke="#1a1a1a" stroke-width="0.16" >1.8</text>
<text x="539.60" y="294.18" font-size="6.94" fill="#1a1a1a" textLength="32.40" lengthAdjust="spacingAndGlyphs" stroke="#1a1a1a" stroke-width="0.16" >Iris-virginica</text>
<rect x="329.00" y="296.42" width="46.00" height="8.75" fill="#e0dfe4" />
<rect x="321.00" y="296.42" width="8.00" height="8.75" fill="#0000ff" />
<text x="331.20" y="302.93" font-size="6.94" fill="#1a1a1a" textLength="20.60" lengthAdjust="spacingAndGlyphs" stroke="#1a1a1a" stroke-width="0.16" >Row128</text>
<text x="375.40" y="302.93" font-size="6.94" fill="#1a1a1a" textLength="8.62" lengthAdjust="spacingAndGlyphs" stroke="#1a1a1a" stroke-width="0.16" >6.1</text>
<text x="416.60" y="302.93" font-size="6.94" fill="#1a1a1a" textLength="3.45" lengthAdjust="spacingAndGlyphs" stroke="#1a1a1a" stroke-width="0.16" >3</text>
<text x="457.70" y="302.93" font-size="6.94" fill="#1a1a1a" textLength="8.62" lengthAdjust="spacingAndGlyphs" stroke="#1a1a1a" stroke-width="0.16" >4.9</text>
<text x="499.00" y="302.93" font-size="6.94" fill="#1a1a1a" textLength="8.62" lengthAdjust="spacingAndGlyphs" stroke="#1a1a1a" stroke-width="0.16" >1.8</text>
<text x="539.60" y="302.93" font-size="6.94" fill="#1a1a1a" textLength="32.40" lengthAdjust="spacingAndGlyphs" stroke="#1a1a1a" stroke-width="0.16" >Iris-virginica</text>
<rect x="329.00" y="305.17" width="46.00" height="8.75" fill="#e0dfe4" />
<rect x="321.00" y="305.17" width="8.00" height="8.75" fill="#0000ff" />
<text x="331.20" y="311.68" font-size="6.94" fill="#1a1a1a" textLength="20.60" lengthAdjust="spacingAndGlyphs" stroke="#1a1a1a" stroke-width="0.16" >Row129</text>
<text x="375.40" y="311.68" font-size="6.94" fill="#1a1a1a" textLength="8.62" lengthAdjust="spacingAndGlyphs" stroke="#1a1a1a" stroke-width="0.16" >6.4</text>
<text x="416.60" y="311.68" font-size="6.94" fill="#1a1a1a" textLength="8.62" lengthAdjust="spacingAndGlyphs" stroke="#1a1a1a" stroke-width="0.16" >2.8</text>
<text x="457.70" y="311.68" font-size="6.94" fill="#1a1a1a" textLength="8.62" lengthAdjust="spacingAndGlyphs" stroke="#1a1a1a" stroke-width="0.16" >5.6</text>
<text x="499.00" y="311.68" font-size="6.94" fill="#1a1a1a" textLength="8.62" lengthAdjust="spacingAndGlyphs" stroke="#1a1a1a" stroke-width="0.16" >2.1</text>
<text x="539.60" y="311.68" font-size="6.94" fill="#1a1a1a" textLength="32.40" lengthAdjust="spacingAndGlyphs" stroke="#1a1a1a" stroke-width="0.16" >Iris-virginica</text>
<rect x="329.00" y="313.92" width="46.00" height="8.75" fill="#ffa90a" />
<rect x="321.00" y="313.92" width="8.00" height="8.75" fill="#0000ff" />
<text x="331.20" y="320.43" font-size="6.94" fill="#1a1a1a" textLength="20.60" lengthAdjust="spacingAndGlyphs" stroke="#1a1a1a" stroke-width="0.16" >Row130</text>
<text x="375.40" y="320.43" font-size="6.94" fill="#1a1a1a" textLength="8.62" lengthAdjust="spacingAndGlyphs" stroke="#1a1a1a" stroke-width="0.16" >7.2</text>
<text x="416.60" y="320.43" font-size="6.94" fill="#1a1a1a" textLength="3.45" lengthAdjust="spacingAndGlyphs" stroke="#1a1a1a" stroke-width="0.16" >3</text>
<text x="457.70" y="320.43" font-size="6.94" fill="#1a1a1a" textLength="8.62" lengthAdjust="spacingAndGlyphs" stroke="#1a1a1a" stroke-width="0.16" >5.8</text>
<text x="499.00" y="320.43" font-size="6.94" fill="#1a1a1a" textLength="8.62" lengthAdjust="spacingAndGlyphs" stroke="#1a1a1a" stroke-width="0.16" >1.6</text>
<text x="539.60" y="320.43" font-size="6.94" fill="#1a1a1a" textLength="32.40" lengthAdjust="spacingAndGlyphs" stroke="#1a1a1a" stroke-width="0.16" >Iris-virginica</text>
<rect x="329.00" y="322.67" width="46.00" height="8.75" fill="#e0dfe4" />
<rect x="321.00" y="322.67" width="8.00" height="8.75" fill="#0000ff" />
<text x="331.20" y="329.19" font-size="6.94" fill="#1a1a1a" textLength="20.60" lengthAdjust="spacingAndGlyphs" stroke="#1a1a1a" stroke-width="0.16" >Row131</text>
<text x="375.40" y="329.19" font-size="6.94" fill="#1a1a1a" textLength="8.62" lengthAdjust="spacingAndGlyphs" stroke="#1a1a1a" stroke-width="0.16" >7.4</text>
<text x="416.60" y="329.19" font-size="6.94" fill="#1a1a1a" textLength="8.62" lengthAdjust="spacingAndGlyphs" stroke="#1a1a1a" stroke-width="0.16" >2.8</text>
<text x="457.70" y="329.19" font-size="6.94" fill="#1a1a1a" textLength="8.62" lengthAdjust="spacingAndGlyphs" stroke="#1a1a1a" stroke-width="0.16" >6.1</text>
<text x="499.00" y="329.19" font-size="6.94" fill="#1a1a1a" textLength="8.62" lengthAdjust="spacingAndGlyphs" stroke="#1a1a1a" stroke-width="0.16" >1.9</text>
<text x="539.60" y="329.19" font-size="6.94" fill="#1a1a1a" textLength="32.40" lengthAdjust="spacingAndGlyphs" stroke="#1a1a1a" stroke-width="0.16" >Iris-virginica</text>
<rect x="329.00" y="331.43" width="46.00" height="8.75" fill="#e0dfe4" />
<rect x="321.00" y="331.43" width="8.00" height="8.75" fill="#0000ff" />
<text x="331.20" y="337.94" font-size="6.94" fill="#1a1a1a" textLength="20.60" lengthAdjust="spacingAndGlyphs" stroke="#1a1a1a" stroke-width="0.16" >Row132</text>
<text x="375.40" y="337.94" font-size="6.94" fill="#1a1a1a" textLength="8.62" lengthAdjust="spacingAndGlyphs" stroke="#1a1a1a" stroke-width="0.16" >7.9</text>
<text x="416.60" y="337.94" font-size="6.94" fill="#1a1a1a" textLength="8.62" lengthAdjust="spacingAndGlyphs" stroke="#1a1a1a" stroke-width="0.16" >3.8</text>
<text x="457.70" y="337.94" font-size="6.94" fill="#1a1a1a" textLength="8.62" lengthAdjust="spacingAndGlyphs" stroke="#1a1a1a" stroke-width="0.16" >6.4</text>
<text x="499.00" y="337.94" font-size="6.94" fill="#1a1a1a" textLength="3.45" lengthAdjust="spacingAndGlyphs" stroke="#1a1a1a" stroke-width="0.16" >2</text>
<text x="539.60" y="337.94" font-size="6.94" fill="#1a1a1a" textLength="32.40" lengthAdjust="spacingAndGlyphs" stroke="#1a1a1a" stroke-width="0.16" >Iris-virginica</text>
<rect x="329.00" y="340.18" width="46.00" height="8.75" fill="#e0dfe4" />
<rect x="321.00" y="340.18" width="8.00" height="8.75" fill="#0000ff" />
<text x="331.20" y="346.69" font-size="6.94" fill="#1a1a1a" textLength="20.60" lengthAdjust="spacingAndGlyphs" stroke="#1a1a1a" stroke-width="0.16" >Row133</text>
<text x="375.40" y="346.69" font-size="6.94" fill="#1a1a1a" textLength="8.62" lengthAdjust="spacingAndGlyphs" stroke="#1a1a1a" stroke-width="0.16" >6.4</text>
<text x="416.60" y="346.69" font-size="6.94" fill="#1a1a1a" textLength="8.62" lengthAdjust="spacingAndGlyphs" stroke="#1a1a1a" stroke-width="0.16" >2.8</text>
<text x="457.70" y="346.69" font-size="6.94" fill="#1a1a1a" textLength="8.62" lengthAdjust="spacingAndGlyphs" stroke="#1a1a1a" stroke-width="0.16" >5.6</text>
<text x="499.00" y="346.69" font-size="6.94" fill="#1a1a1a" textLength="8.62" lengthAdjust="spacingAndGlyphs" stroke="#1a1a1a" stroke-width="0.16" >2.2</text>
<text x="539.60" y="346.69" font-size="6.94" fill="#1a1a1a" textLength="32.40" lengthAdjust="spacingAndGlyphs" stroke="#1a1a1a" stroke-width="0.16" >Iris-virginica</text>
<rect x="329.00" y="348.93" width="46.00" height="8.75" fill="#ffa90a" />
<rect x="321.00" y="348.93" width="8.00" height="8.75" fill="#0000ff" />
<text x="331.20" y="355.44" font-size="6.94" fill="#1a1a1a" textLength="20.60" lengthAdjust="spacingAndGlyphs" stroke="#1a1a1a" stroke-width="0.16" >Row134</text>
<text x="375.40" y="355.44" font-size="6.94" fill="#1a1a1a" textLength="8.62" lengthAdjust="spacingAndGlyphs" stroke="#1a1a1a" stroke-width="0.16" >6.3</text>
<text x="416.60" y="355.44" font-size="6.94" fill="#1a1a1a" textLength="8.62" lengthAdjust="spacingAndGlyphs" stroke="#1a1a1a" stroke-width="0.16" >2.8</text>
<text x="457.70" y="355.44" font-size="6.94" fill="#1a1a1a" textLength="8.62" lengthAdjust="spacingAndGlyphs" stroke="#1a1a1a" stroke-width="0.16" >5.1</text>
<text x="499.00" y="355.44" font-size="6.94" fill="#1a1a1a" textLength="8.62" lengthAdjust="spacingAndGlyphs" stroke="#1a1a1a" stroke-width="0.16" >1.5</text>
<text x="539.60" y="355.44" font-size="6.94" fill="#1a1a1a" textLength="32.40" lengthAdjust="spacingAndGlyphs" stroke="#1a1a1a" stroke-width="0.16" >Iris-virginica</text>
<rect x="329.00" y="357.68" width="46.00" height="8.75" fill="#ffa90a" />
<rect x="321.00" y="357.68" width="8.00" height="8.75" fill="#0000ff" />
<text x="331.20" y="364.19" font-size="6.94" fill="#1a1a1a" textLength="20.60" lengthAdjust="spacingAndGlyphs" stroke="#1a1a1a" stroke-width="0.16" >Row135</text>
<text x="375.40" y="364.19" font-size="6.94" fill="#1a1a1a" textLength="8.62" lengthAdjust="spacingAndGlyphs" stroke="#1a1a1a" stroke-width="0.16" >6.1</text>
<text x="416.60" y="364.19" font-size="6.94" fill="#1a1a1a" textLength="8.62" lengthAdjust="spacingAndGlyphs" stroke="#1a1a1a" stroke-width="0.16" >2.6</text>
<text x="457.70" y="364.19" font-size="6.94" fill="#1a1a1a" textLength="8.62" lengthAdjust="spacingAndGlyphs" stroke="#1a1a1a" stroke-width="0.16" >5.6</text>
<text x="499.00" y="364.19" font-size="6.94" fill="#1a1a1a" textLength="8.62" lengthAdjust="spacingAndGlyphs" stroke="#1a1a1a" stroke-width="0.16" >1.4</text>
<text x="539.60" y="364.19" font-size="6.94" fill="#1a1a1a" textLength="32.40" lengthAdjust="spacingAndGlyphs" stroke="#1a1a1a" stroke-width="0.16" >Iris-virginica</text>
<rect x="329.00" y="366.43" width="46.00" height="8.75" fill="#e0dfe4" />
<rect x="321.00" y="366.43" width="8.00" height="8.75" fill="#0000ff" />
<text x="331.20" y="372.95" font-size="6.94" fill="#1a1a1a" textLength="20.60" lengthAdjust="spacingAndGlyphs" stroke="#1a1a1a" stroke-width="0.16" >Row136</text>
<text x="375.40" y="372.95" font-size="6.94" fill="#1a1a1a" textLength="8.62" lengthAdjust="spacingAndGlyphs" stroke="#1a1a1a" stroke-width="0.16" >7.7</text>
<text x="416.60" y="372.95" font-size="6.94" fill="#1a1a1a" textLength="3.45" lengthAdjust="spacingAndGlyphs" stroke="#1a1a1a" stroke-width="0.16" >3</text>
<text x="457.70" y="372.95" font-size="6.94" fill="#1a1a1a" textLength="8.62" lengthAdjust="spacingAndGlyphs" stroke="#1a1a1a" stroke-width="0.16" >6.1</text>
<text x="499.00" y="372.95" font-size="6.94" fill="#1a1a1a" textLength="8.62" lengthAdjust="spacingAndGlyphs" stroke="#1a1a1a" stroke-width="0.16" >2.3</text>
<text x="539.60" y="372.95" font-size="6.94" fill="#1a1a1a" textLength="32.40" lengthAdjust="spacingAndGlyphs" stroke="#1a1a1a" stroke-width="0.16" >Iris-virginica</text>
<rect x="329.00" y="375.19" width="46.00" height="8.75" fill="#e0dfe4" />
<rect x="321.00" y="375.19" width="8.00" height="8.75" fill="#0000ff" />
<text x="331.20" y="381.70" font-size="6.94" fill="#1a1a1a" textLength="20.60" lengthAdjust="spacingAndGlyphs" stroke="#1a1a1a" stroke-width="0.16" >Row137</text>
<text x="375.40" y="381.70" font-size="6.94" fill="#1a1a1a" textLength="8.62" lengthAdjust="spacingAndGlyphs" stroke="#1a1a1a" stroke-width="0.16" >6.3</text>
<text x="416.60" y="381.70" font-size="6.94" fill="#1a1a1a" textLength="8.62" lengthAdjust="spacingAndGlyphs" stroke="#1a1a1a" stroke-width="0.16" >3.4</text>
<text x="457.70" y="381.70" font-size="6.94" fill="#1a1a1a" textLength="8.62" lengthAdjust="spacingAndGlyphs" stroke="#1a1a1a" stroke-width="0.16" >5.6</text>
<text x="499.00" y="381.70" font-size="6.94" fill="#1a1a1a" textLength="8.62" lengthAdjust="spacingAndGlyphs" stroke="#1a1a1a" stroke-width="0.16" >2.4</text>
<text x="539.60" y="381.70" font-size="6.94" fill="#1a1a1a" textLength="32.40" lengthAdjust="spacingAndGlyphs" stroke="#1a1a1a" stroke-width="0.16" >Iris-virginica</text>
<rect x="329.00" y="383.94" width="46.00" height="8.75" fill="#e0dfe4" />
<rect x="321.00" y="383.94" width="8.00" height="8.75" fill="#0000ff" />
<text x="331.20" y="390.45" font-size="6.94" fill="#1a1a1a" textLength="20.60" lengthAdjust="spacingAndGlyphs" stroke="#1a1a1a" stroke-width="0.16" >Row138</text>
<text x="375.40" y="390.45" font-size="6.94" fill="#1a1a1a" textLength="8.62" lengthAdjust="spacingAndGlyphs" stroke="#1a1a1a" stroke-width="0.16" >6.4</text>
<text x="416.60" y="390.45" font-size="6.94" fill="#1a1a1a" textLength="8.62" lengthAdjust="spacingAndGlyphs" stroke="#1a1a1a" stroke-width="0.16" >3.1</text>
<text x="457.70" y="390.45" font-size="6.94" fill="#1a1a1a" textLength="8.62" lengthAdjust="spacingAndGlyphs" stroke="#1a1a1a" stroke-width="0.16" >5.5</text>
<text x="499.00" y="390.45" font-size="6.94" fill="#1a1a1a" textLength="8.62" lengthAdjust="spacingAndGlyphs" stroke="#1a1a1a" stroke-width="0.16" >1.8</text>
<text x="539.60" y="390.45" font-size="6.94" fill="#1a1a1a" textLength="32.40" lengthAdjust="spacingAndGlyphs" stroke="#1a1a1a" stroke-width="0.16" >Iris-virginica</text>
<rect x="329.00" y="392.69" width="46.00" height="8.75" fill="#e0dfe4" />
<rect x="321.00" y="392.69" width="8.00" height="8.75" fill="#0000ff" />
<text x="331.20" y="399.20" font-size="6.94" fill="#1a1a1a" textLength="20.60" lengthAdjust="spacingAndGlyphs" stroke="#1a1a1a" stroke-width="0.16" >Row139</text>
<text x="375.40" y="399.20" font-size="6.94" fill="#1a1a1a" textLength="3.45" lengthAdjust="spacingAndGlyphs" stroke="#1a1a1a" stroke-width="0.16" >6</text>
<text x="416.60" y="399.20" font-size="6.94" fill="#1a1a1a" textLength="3.45" lengthAdjust="spacingAndGlyphs" stroke="#1a1a1a" stroke-width="0.16" >3</text>
<text x="457.70" y="399.20" font-size="6.94" fill="#1a1a1a" textLength="8.62" lengthAdjust="spacingAndGlyphs" stroke="#1a1a1a" stroke-width="0.16" >4.8</text>
<text x="499.00" y="399.20" font-size="6.94" fill="#1a1a1a" textLength="8.62" lengthAdjust="spacingAndGlyphs" stroke="#1a1a1a" stroke-width="0.16" >1.8</text>
<text x="539.60" y="399.20" font-size="6.94" fill="#1a1a1a" textLength="32.40" lengthAdjust="spacingAndGlyphs" stroke="#1a1a1a" stroke-width="0.16" >Iris-virginica</text>
<rect x="329.00" y="401.44" width="46.00" height="8.75" fill="#e0dfe4" />
<rect x="321.00" y="401.44" width="8.00" height="8.75" fill="#0000ff" />
<text x="331.20" y="407.95" font-size="6.94" fill="#1a1a1a" textLength="20.60" lengthAdjust="spacingAndGlyphs" stroke="#1a1a1a" stroke-width="0.16" >Row140</text>
<text x="375.40" y="407.95" font-size="6.94" fill="#1a1a1a" textLength="8.62" lengthAdjust="spacingAndGlyphs" stroke="#1a1a1a" stroke-width="0.16" >6.9</text>
<text x="416.60" y="407.95" font-size="6.94" fill="#1a1a1a" textLength="8.62" lengthAdjust="spacingAndGlyphs" stroke="#1a1a1a" stroke-width="0.16" >3.1</text>
<text x="457.70" y="407.95" font-size="6.94" fill="#1a1a1a" textLength="8.62" lengthAdjust="spacingAndGlyphs" stroke="#1a1a1a" stroke-width="0.16" >5.4</text>
<text x="499.00" y="407.95" font-size="6.94" fill="#1a1a1a" textLength="8.62" lengthAdjust="spacingAndGlyphs" stroke="#1a1a1a" stroke-width="0.16" >2.1</text>
<text x="539.60" y="407.95" font-size="6.94" fill="#1a1a1a" textLength="32.40" lengthAdjust="spacingAndGlyphs" stroke="#1a1a1a" stroke-width="0.16" >Iris-virginica</text>
<rect x="329.00" y="410.19" width="46.00" height="8.75" fill="#e0dfe4" />
<rect x="321.00" y="410.19" width="8.00" height="8.75" fill="#0000ff" />
<text x="331.20" y="416.71" font-size="6.94" fill="#1a1a1a" textLength="20.60" lengthAdjust="spacingAndGlyphs" stroke="#1a1a1a" stroke-width="0.16" >Row141</text>
<text x="375.40" y="416.71" font-size="6.94" fill="#1a1a1a" textLength="8.62" lengthAdjust="spacingAndGlyphs" stroke="#1a1a1a" stroke-width="0.16" >6.7</text>
<text x="416.60" y="416.71" font-size="6.94" fill="#1a1a1a" textLength="8.62" lengthAdjust="spacingAndGlyphs" stroke="#1a1a1a" stroke-width="0.16" >3.1</text>
<text x="457.70" y="416.71" font-size="6.94" fill="#1a1a1a" textLength="8.62" lengthAdjust="spacingAndGlyphs" stroke="#1a1a1a" stroke-width="0.16" >5.6</text>
<text x="499.00" y="416.71" font-size="6.94" fill="#1a1a1a" textLength="8.62" lengthAdjust="spacingAndGlyphs" stroke="#1a1a1a" stroke-width="0.16" >2.4</text>
<text x="539.60" y="416.71" font-size="6.94" fill="#1a1a1a" textLength="32.40" lengthAdjust="spacingAndGlyphs" stroke="#1a1a1a" stroke-width="0.16" >Iris-virginica</text>
<rect x="329.00" y="418.95" width="46.00" height="8.75" fill="#e0dfe4" />
<rect x="321.00" y="418.95" width="8.00" height="8.75" fill="#0000ff" />
<text x="331.20" y="425.46" font-size="6.94" fill="#1a1a1a" textLength="20.60" lengthAdjust="spacingAndGlyphs" stroke="#1a1a1a" stroke-width="0.16" >Row142</text>
<text x="375.40" y="425.46" font-size="6.94" fill="#1a1a1a" textLength="8.62" lengthAdjust="spacingAndGlyphs" stroke="#1a1a1a" stroke-width="0.16" >6.9</text>
<text x="416.60" y="425.46" font-size="6.94" fill="#1a1a1a" textLength="8.62" lengthAdjust="spacingAndGlyphs" stroke="#1a1a1a" stroke-width="0.16" >3.1</text>
<text x="457.70" y="425.46" font-size="6.94" fill="#1a1a1a" textLength="8.62" lengthAdjust="spacingAndGlyphs" stroke="#1a1a1a" stroke-width="0.16" >5.1</text>
<text x="499.00" y="425.46" font-size="6.94" fill="#1a1a1a" textLength="8.62" lengthAdjust="spacingAndGlyphs" stroke="#1a1a1a" stroke-width="0.16" >2.3</text>
<text x="539.60" y="425.46" font-size="6.94" fill="#1a1a1a" textLength="32.40" lengthAdjust="spacingAndGlyphs" stroke="#1a1a1a" stroke-width="0.16" >Iris-virginica</text>
<rect x="329.00" y="427.70" width="46.00" height="8.75" fill="#e0dfe4" />
<rect x="321.00" y="427.70" width="8.00" height="8.75" fill="#0000ff" />
<text x="331.20" y="434.21" font-size="6.94" fill="#1a1a1a" textLength="20.60" lengthAdjust="spacingAndGlyphs" stroke="#1a1a1a" stroke-width="0.16" >Row143</text>
<text x="375.40" y="434.21" font-size="6.94" fill="#1a1a1a" textLength="8.62" lengthAdjust="spacingAndGlyphs" stroke="#1a1a1a" stroke-width="0.16" >5.8</text>
<text x="416.60" y="434.21" font-size="6.94" fill="#1a1a1a" textLength="8.62" lengthAdjust="spacingAndGlyphs" stroke="#1a1a1a" stroke-width="0.16" >2.7</text>
<text x="457.70" y="434.21" font-size="6.94" fill="#1a1a1a" textLength="8.62" lengthAdjust="spacingAndGlyphs" stroke="#1a1a1a" stroke-width="0.16" >5.1</text>
<text x="499.00" y="434.21" font-size="6.94" fill="#1a1a1a" textLength="8.62" lengthAdjust="spacingAndGlyphs" stroke="#1a1a1a" stroke-width="0.16" >1.9</text>
<text x="539.60" y="434.21" font-size="6.94" fill="#1a1a1a" textLength="32.40" lengthAdjust="spacingAndGlyphs" stroke="#1a1a1a" stroke-width="0.16" >Iris-virginica</text>
<line x1="321.00" y1="217.65" x2="580.60" y2="217.65" stroke="#98989e" stroke-width="0.65" />
<line x1="321.00" y1="226.40" x2="580.60" y2="226.40" stroke="#98989e" stroke-width="0.65" />
<line x1="321.00" y1="235.15" x2="580.60" y2="235.15" stroke="#98989e" stroke-width="0.65" />
<line x1="321.00" y1="243.91" x2="580.60" y2="243.91" stroke="#98989e" stroke-width="0.65" />
<line x1="321.00" y1="252.66" x2="580.60" y2="252.66" stroke="#98989e" stroke-width="0.65" />
<line x1="321.00" y1="261.41" x2="580.60" y2="261.41" stroke="#98989e" stroke-width="0.65" />
<line x1="321.00" y1="270.16" x2="580.60" y2="270.16" stroke="#98989e" stroke-width="0.65" />
<line x1="321.00" y1="278.91" x2="580.60" y2="278.91" stroke="#98989e" stroke-width="0.65" />
<line x1="321.00" y1="287.67" x2="580.60" y2="287.67" stroke="#98989e" stroke-width="0.65" />
<line x1="321.00" y1="296.42" x2="580.60" y2="296.42" stroke="#98989e" stroke-width="0.65" />
<line x1="321.00" y1="305.17" x2="580.60" y2="305.17" stroke="#98989e" stroke-width="0.65" />
<line x1="321.00" y1="313.92" x2="580.60" y2="313.92" stroke="#98989e" stroke-width="0.65" />
<line x1="321.00" y1="322.67" x2="580.60" y2="322.67" stroke="#98989e" stroke-width="0.65" />
<line x1="321.00" y1="331.43" x2="580.60" y2="331.43" stroke="#98989e" stroke-width="0.65" />
<line x1="321.00" y1="340.18" x2="580.60" y2="340.18" stroke="#98989e" stroke-width="0.65" />
<line x1="321.00" y1="348.93" x2="580.60" y2="348.93" stroke="#98989e" stroke-width="0.65" />
<line x1="321.00" y1="357.68" x2="580.60" y2="357.68" stroke="#98989e" stroke-width="0.65" />
<line x1="321.00" y1="366.43" x2="580.60" y2="366.43" stroke="#98989e" stroke-width="0.65" />
<line x1="321.00" y1="375.19" x2="580.60" y2="375.19" stroke="#98989e" stroke-width="0.65" />
<line x1="321.00" y1="383.94" x2="580.60" y2="383.94" stroke="#98989e" stroke-width="0.65" />
<line x1="321.00" y1="392.69" x2="580.60" y2="392.69" stroke="#98989e" stroke-width="0.65" />
<line x1="321.00" y1="401.44" x2="580.60" y2="401.44" stroke="#98989e" stroke-width="0.65" />
<line x1="321.00" y1="410.19" x2="580.60" y2="410.19" stroke="#98989e" stroke-width="0.65" />
<line x1="321.00" y1="418.95" x2="580.60" y2="418.95" stroke="#98989e" stroke-width="0.65" />
<line x1="321.00" y1="427.70" x2="580.60" y2="427.70" stroke="#98989e" stroke-width="0.65" />
<line x1="321.00" y1="436.45" x2="580.60" y2="436.45" stroke="#98989e" stroke-width="0.65" />
<line x1="375.00" y1="207.00" x2="375.00" y2="436.45" stroke="#98989e" stroke-width="0.65" />
<line x1="416.20" y1="207.00" x2="416.20" y2="436.45" stroke="#98989e" stroke-width="0.65" />
<line x1="457.30" y1="207.00" x2="457.30" y2="436.45" stroke="#98989e" stroke-width="0.65" />
<line x1="498.60" y1="207.00" x2="498.60" y2="436.45" stroke="#98989e" stroke-width="0.65" />
<line x1="539.70" y1="207.00" x2="539.70" y2="436.45" stroke="#98989e" stroke-width="0.65" />
<line x1="580.70" y1="207.00" x2="580.70" y2="436.45" stroke="#98989e" stroke-width="0.65" />
<line x1="329.00" y1="217.65" x2="329.00" y2="436.45" stroke="#5050c8" stroke-width="0.4" />
<rect x="621.80" y="206.60" width="9.20" height="230.80" fill="url(#gTrackV)" />
<rect x="622.60" y="385.60" width="8.00" height="32.60" fill="url(#gSbV)" stroke="#b4b6cc" stroke-width="0.6" rx="1.2" />
<line x1="625.20" y1="399.60" x2="628.20" y2="399.60" stroke="#a4a6bc" stroke-width="0.6" />
<line x1="625.20" y1="401.20" x2="628.20" y2="401.20" stroke="#a4a6bc" stroke-width="0.6" />
<line x1="625.20" y1="402.80" x2="628.20" y2="402.80" stroke="#a4a6bc" stroke-width="0.6" />
<rect x="623.20" y="428.60" width="7.60" height="7.80" fill="url(#gSbV)" stroke="#b4b6cc" stroke-width="0.6" rx="1.2" />
<path d="M625.2 431.4 L627 433.6 L628.8 431.4" fill="none" stroke="#222" stroke-width="1.1"/>
<line x1="321.00" y1="437.60" x2="631.30" y2="437.60" stroke="#8aa2cc" stroke-width="0.8" />
<path d="M367.20 297.60 V9.20 Q367.20 5.20 371.20 5.20 H644.80 Q648.80 5.20 648.80 9.20 V297.60 Z" fill="#d6d8e4"/>
<path d="M367.80 21.00 V9.50 Q367.80 6.00 371.20 6.00 H644.80 Q648.20 6.00 648.20 9.50 V21.00 Z" fill="url(#gAct)"/>
<path d="M367.70 297.10 V9.70 Q367.70 5.70 371.70 5.70 H644.30 Q648.30 5.70 648.30 9.70 V297.10" fill="none" stroke="#6e7196" stroke-width="1.2"/>
<line x1="367.20" y1="297.10" x2="648.80" y2="297.10" stroke="#9a9cb6" stroke-width="1.0" />
<rect x="370.00" y="9.30" width="9.20" height="9.00" fill="#e6e6f6" />
<g transform="translate(370.60,9.70) scale(0.965)" fill="none" stroke="#3a3a3e" stroke-width="0.85" stroke-linejoin="round" stroke-linecap="round"><path d="M4.3 0.8 L8.1 7.9 L0.5 7.9 Z"/><path d="M2.6 5.3 L5.2 5.3 L3.3 7.3 M3.2 4.2 Q3 5 3.8 5.2" stroke-width="0.7"/><path d="M3.6 2.9 L5.0 3.7" stroke-width="0.7"/></g>
<text x="381.00" y="16.68" font-size="8.18" fill="#2a2420" font-weight="bold" stroke="#2a2420" stroke-width="0.12" textLength="125.00" lengthAdjust="spacingAndGlyphs" >J48 (Weka) (#7) - Decision Tree View</text>
<rect x="634.80" y="9.00" width="10.80" height="10.80" fill="url(#gClose)" stroke="#a04848" stroke-width="0.7" rx="1.5" />
<line x1="637.50" y1="11.70" x2="642.90" y2="17.10" stroke="#ffffff" stroke-width="1.25" />
<line x1="642.90" y1="11.70" x2="637.50" y2="17.10" stroke="#ffffff" stroke-width="1.25" />
<rect x="622.10" y="9.00" width="10.80" height="10.80" fill="url(#gBtn)" stroke="#8c8fb0" stroke-width="0.7" rx="1.5" />
<rect x="624.90" y="11.80" width="5.20" height="5.20" fill="none" stroke="#30304c" stroke-width="0.9" />
<line x1="624.90" y1="12.30" x2="630.10" y2="12.30" stroke="#30304c" stroke-width="1.4" />
<rect x="609.40" y="9.00" width="10.80" height="10.80" fill="url(#gBtn)" stroke="#8c8fb0" stroke-width="0.7" rx="1.5" />
<line x1="612.40" y1="16.60" x2="615.80" y2="16.60" stroke="#30304c" stroke-width="1.6" />
<rect x="368.70" y="21.00" width="278.60" height="11.90" fill="#dfe2ec" />
<text x="372.20" y="29.13" font-size="7.06" fill="#1a1a1a" textLength="8.90" lengthAdjust="spacingAndGlyphs" stroke="#1a1a1a" stroke-width="0.16" >File</text>
<text x="388.20" y="29.13" font-size="7.06" fill="#1a1a1a" textLength="22.00" lengthAdjust="spacingAndGlyphs" stroke="#1a1a1a" stroke-width="0.16" >Highlight</text>
<rect x="369.00" y="32.80" width="275.60" height="12.20" fill="#c1c1c1" />
<rect x="369.40" y="45.00" width="274.80" height="248.80" fill="#ffffff" stroke="#9db8d8" stroke-width="0.9" />
<line x1="369.00" y1="45.60" x2="644.60" y2="45.60" stroke="#dfe8f4" stroke-width="1.2" />
<rect x="369.20" y="33.60" width="31.20" height="12.40" fill="#ffffff" stroke="#a8a8b0" stroke-width="0.6" />
<rect x="369.60" y="45.00" width="30.40" height="1.60" fill="#ffffff" />
<path d="M369.2 35 Q369.2 33.4 370.8 33.4 H398.8 Q400.4 33.4 400.4 35" fill="none" stroke="#f0a020" stroke-width="1.5"/>
<text x="372.80" y="41.84" font-size="6.94" fill="#1a1a1a" textLength="24.20" lengthAdjust="spacingAndGlyphs" stroke="#1a1a1a" stroke-width="0.16" >Treeview</text>
<rect x="401.60" y="35.40" width="31.80" height="9.60" fill="#eeeef4" stroke="#9a9aa6" stroke-width="0.6" rx="0.8" />
<text x="404.20" y="42.64" font-size="6.94" fill="#1a1a1a" textLength="26.60" lengthAdjust="spacingAndGlyphs" stroke="#1a1a1a" stroke-width="0.16" >Weka Tree</text>
<rect x="434.60" y="35.40" width="29.80" height="9.60" fill="#eeeef4" stroke="#9a9aa6" stroke-width="0.6" rx="0.8" />
<text x="437.40" y="42.64" font-size="6.94" fill="#1a1a1a" textLength="24.20" lengthAdjust="spacingAndGlyphs" stroke="#1a1a1a" stroke-width="0.16" >Summary</text>
<rect x="465.60" y="35.40" width="24.20" height="9.60" fill="#eeeef4" stroke="#9a9aa6" stroke-width="0.6" rx="0.8" />
<text x="468.20" y="42.64" font-size="6.94" fill="#1a1a1a" textLength="19.00" lengthAdjust="spacingAndGlyphs" stroke="#1a1a1a" stroke-width="0.16" >Source</text>
<line x1="374.60" y1="69.00" x2="374.60" y2="100.54" stroke="#cfcfcf" stroke-width="0.8" />
<line x1="374.60" y1="79.12" x2="381.00" y2="79.12" stroke="#cfcfcf" stroke-width="0.8" />
<line x1="374.60" y1="100.54" x2="381.00" y2="100.54" stroke="#cfcfcf" stroke-width="0.8" />
<line x1="385.60" y1="111.00" x2="385.60" y2="229.06" stroke="#cfcfcf" stroke-width="0.8" />
<line x1="385.60" y1="121.96" x2="392.00" y2="121.96" stroke="#cfcfcf" stroke-width="0.8" />
<line x1="385.60" y1="229.06" x2="392.20" y2="229.06" stroke="#cfcfcf" stroke-width="0.8" />
<line x1="396.50" y1="132.40" x2="396.50" y2="164.80" stroke="#cfcfcf" stroke-width="0.8" />
<line x1="396.50" y1="143.38" x2="403.00" y2="143.38" stroke="#cfcfcf" stroke-width="0.8" />
<line x1="407.50" y1="175.00" x2="407.50" y2="207.64" stroke="#cfcfcf" stroke-width="0.8" />
<line x1="407.50" y1="186.22" x2="414.00" y2="186.22" stroke="#cfcfcf" stroke-width="0.8" />
<line x1="407.50" y1="207.64" x2="414.00" y2="207.64" stroke="#cfcfcf" stroke-width="0.8" />
<rect x="372.70" y="98.24" width="4.60" height="4.60" fill="#f4f6fa" stroke="#b4b8c4" stroke-width="0.7" rx="0.8" />
<line x1="373.80" y1="100.54" x2="376.20" y2="100.54" stroke="#70747c" stroke-width="0.7" />
<rect x="383.70" y="119.66" width="4.60" height="4.60" fill="#f4f6fa" stroke="#b4b8c4" stroke-width="0.7" rx="0.8" />
<line x1="384.80" y1="121.96" x2="387.20" y2="121.96" stroke="#70747c" stroke-width="0.7" />
<rect x="394.70" y="162.50" width="4.60" height="4.60" fill="#f4f6fa" stroke="#b4b8c4" stroke-width="0.7" rx="0.8" />
<line x1="395.80" y1="164.80" x2="398.20" y2="164.80" stroke="#70747c" stroke-width="0.7" />
<rect x="404.20" y="155.20" width="163.00" height="19.40" fill="#ffffff" stroke="#1e1e1e" stroke-width="1.3" />
<circle cx="380.20" cy="57.70" r="5.70" fill="#00ff00"/>
<path d="M380.20 57.70 L377.35 52.76 A5.70 5.70 0 0 0 377.35 62.64 Z" fill="#ff0000"/>
<path d="M380.20 57.70 L377.35 62.64 A5.70 5.70 0 0 0 385.90 57.70 Z" fill="#0000ff"/>
<rect x="388.50" y="51.40" width="4.60" height="12.60" fill="#ffffff" />
<rect x="388.50" y="51.40" width="4.60" height="12.60" fill="#ffc000" />
<rect x="388.50" y="51.40" width="4.60" height="12.60" fill="none" stroke="#4a4a4a" stroke-width="0.9" />
<text x="394.60" y="59.94" font-size="6.94" fill="#2a2a2a" textLength="108.00" lengthAdjust="spacingAndGlyphs" stroke="#2a2a2a" stroke-width="0.16" >[root]:  class 'Iris-setosa' (50.0 of 150.0)</text>
<circle cx="391.15" cy="79.12" r="5.70" fill="#ff0000"/>
<rect x="399.45" y="72.82" width="4.60" height="12.60" fill="#ffffff" />
<rect x="399.45" y="81.22" width="4.60" height="4.20" fill="#ffc000" />
<rect x="399.45" y="72.82" width="4.60" height="12.60" fill="none" stroke="#4a4a4a" stroke-width="0.9" />
<text x="405.55" y="81.36" font-size="6.94" fill="#2a2a2a" textLength="141.60" lengthAdjust="spacingAndGlyphs" stroke="#2a2a2a" stroke-width="0.16" >[petal width&lt;= 0.6]:  class 'Iris-setosa' (50.0 of 50.0)</text>
<circle cx="391.15" cy="100.54" r="5.70" fill="#00ff00"/>
<path d="M391.15 100.54 L385.45 100.54 A5.70 5.70 0 0 0 396.85 100.54 Z" fill="#0000ff"/>
<rect x="399.45" y="94.24" width="4.60" height="12.60" fill="#ffffff" />
<rect x="399.45" y="98.44" width="4.60" height="8.40" fill="#ffc000" />
<rect x="399.45" y="94.24" width="4.60" height="12.60" fill="none" stroke="#4a4a4a" stroke-width="0.9" />
<text x="405.55" y="102.78" font-size="6.94" fill="#2a2a2a" textLength="147.60" lengthAdjust="spacingAndGlyphs" stroke="#2a2a2a" stroke-width="0.16" >[petal width&gt; 0.6]:  class 'Iris-versicolor' (50.0 of 100.0)</text>
<circle cx="402.10" cy="121.96" r="5.70" fill="#00ff00"/>
<path d="M402.10 121.96 L406.86 125.09 A5.70 5.70 0 0 0 407.80 121.96 Z" fill="#0000ff"/>
<rect x="410.40" y="115.66" width="4.60" height="12.60" fill="#ffffff" />
<rect x="410.40" y="121.46" width="4.60" height="6.80" fill="#ffc000" />
<rect x="410.40" y="115.66" width="4.60" height="12.60" fill="none" stroke="#4a4a4a" stroke-width="0.9" />
<text x="416.50" y="124.20" font-size="6.94" fill="#2a2a2a" textLength="149.00" lengthAdjust="spacingAndGlyphs" stroke="#2a2a2a" stroke-width="0.16" >[petal width&lt;= 1.7]:  class 'Iris-versicolor' (49.0 of 54.0)</text>
<circle cx="413.05" cy="143.38" r="5.70" fill="#00ff00"/>
<path d="M413.05 143.38 L418.70 144.12 A5.70 5.70 0 0 0 418.75 143.38 Z" fill="#0000ff"/>
<rect x="421.35" y="137.08" width="4.60" height="12.60" fill="#ffffff" />
<rect x="421.35" y="138.47" width="4.60" height="11.21" fill="#ffc000" />
<rect x="421.35" y="137.08" width="4.60" height="12.60" fill="none" stroke="#4a4a4a" stroke-width="0.9" />
<text x="427.45" y="145.62" font-size="6.94" fill="#2a2a2a" textLength="151.00" lengthAdjust="spacingAndGlyphs" stroke="#2a2a2a" stroke-width="0.16" >[petal length&lt;= 4.9]:  class 'Iris-versicolor' (47.0 of 48.0)</text>
<circle cx="413.05" cy="164.80" r="5.70" fill="#0000ff"/>
<path d="M413.05 164.80 L418.75 164.80 A5.70 5.70 0 0 0 410.20 159.86 Z" fill="#00ff00"/>
<rect x="421.35" y="158.50" width="4.60" height="12.60" fill="#ffffff" />
<rect x="421.35" y="169.71" width="4.60" height="1.39" fill="#ffc000" />
<rect x="421.35" y="158.50" width="4.60" height="12.60" fill="none" stroke="#4a4a4a" stroke-width="0.9" />
<text x="427.45" y="167.04" font-size="6.94" fill="#2a2a2a" textLength="136.20" lengthAdjust="spacingAndGlyphs" stroke="#2a2a2a" stroke-width="0.16" >[petal length&gt; 4.9]:  class 'Iris-virginica' (4.0 of 6.0)</text>
<circle cx="424.00" cy="186.22" r="5.70" fill="#0000ff"/>
<rect x="432.30" y="179.92" width="4.60" height="12.60" fill="#ffffff" />
<rect x="432.30" y="186.22" width="4.60" height="6.30" fill="#ffc000" />
<rect x="432.30" y="179.92" width="4.60" height="12.60" fill="none" stroke="#4a4a4a" stroke-width="0.9" />
<text x="438.40" y="188.46" font-size="6.94" fill="#2a2a2a" textLength="138.60" lengthAdjust="spacingAndGlyphs" stroke="#2a2a2a" stroke-width="0.16" >[petal width&lt;= 1.5]:  class 'Iris-virginica' (3.0 of 3.0)</text>
<circle cx="424.00" cy="207.64" r="5.70" fill="#00ff00"/>
<path d="M424.00 207.64 L421.15 212.58 A5.70 5.70 0 0 0 429.70 207.64 Z" fill="#0000ff"/>
<rect x="432.30" y="201.34" width="4.60" height="12.60" fill="#ffffff" />
<rect x="432.30" y="207.64" width="4.60" height="6.30" fill="#ffc000" />
<rect x="432.30" y="201.34" width="4.60" height="12.60" fill="none" stroke="#4a4a4a" stroke-width="0.9" />
<text x="438.40" y="209.88" font-size="6.94" fill="#2a2a2a" textLength="138.00" lengthAdjust="spacingAndGlyphs" stroke="#2a2a2a" stroke-width="0.16" >[petal width&gt; 1.5]:  class 'Iris-versicolor' (2.0 of 3.0)</text>
<circle cx="402.10" cy="229.06" r="5.70" fill="#0000ff"/>
<path d="M402.10 229.06 L407.80 229.06 A5.70 5.70 0 0 0 407.75 228.28 Z" fill="#00ff00"/>
<rect x="410.40" y="222.76" width="4.60" height="12.60" fill="#ffffff" />
<rect x="410.40" y="229.56" width="4.60" height="5.80" fill="#ffc000" />
<rect x="410.40" y="222.76" width="4.60" height="12.60" fill="none" stroke="#4a4a4a" stroke-width="0.9" />
<text x="416.50" y="231.30" font-size="6.94" fill="#2a2a2a" textLength="140.60" lengthAdjust="spacingAndGlyphs" stroke="#2a2a2a" stroke-width="0.16" >[petal width&gt; 1.7]:  class 'Iris-virginica' (45.0 of 46.0)</text>
<rect x="648.90" y="72.50" width="1.10" height="7.00" fill="#f0c078" />
<rect x="648.90" y="105.50" width="1.10" height="3.00" fill="#5a3c8c" />
<rect x="648.90" y="120.00" width="1.10" height="3.00" fill="#e8b050" />
<rect x="648.90" y="128.00" width="1.10" height="2.50" fill="#9a9aa6" />
<rect x="648.90" y="141.00" width="1.10" height="3.50" fill="#6a4a9a" />
<rect x="648.90" y="160.00" width="1.10" height="3.00" fill="#4a6ac8" />
<rect x="648.90" y="168.00" width="1.10" height="3.00" fill="#3a5ac0" />
<rect x="648.90" y="189.00" width="1.10" height="3.00" fill="#6a3c90" />
<rect x="648.90" y="194.00" width="1.10" height="2.50" fill="#e8a048" />
<rect x="648.90" y="211.00" width="1.10" height="3.50" fill="#6a4a9a" />
<rect x="648.90" y="230.00" width="1.10" height="3.00" fill="#444450" />
<rect x="648.90" y="244.50" width="1.10" height="1.20" fill="#5a7ad0" />
<rect x="648.90" y="250.00" width="1.10" height="2.50" fill="#8a8a96" />
<rect x="648.90" y="265.00" width="1.10" height="3.00" fill="#4a6ac8" />
<rect x="648.90" y="275.00" width="1.10" height="3.50" fill="#c07848" />
</g>
</svg>
</body></html>
